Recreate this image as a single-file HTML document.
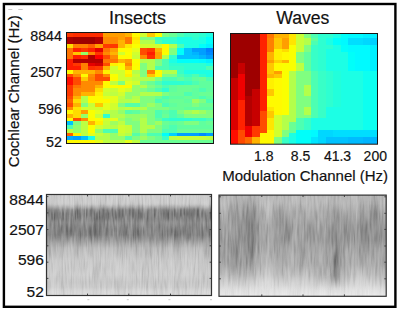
<!DOCTYPE html>
<html><head><meta charset="utf-8"><style>
html,body{margin:0;padding:0;background:#fff;width:400px;height:311px;overflow:hidden}
svg{display:block;font-family:"Liberation Sans",sans-serif}
</style></head><body>
<svg width="400" height="311" viewBox="0 0 400 311">
<defs><linearGradient id="gl" x1="0" y1="0" x2="0" y2="1"><stop offset="0.000" stop-color="#cecece"/><stop offset="0.094" stop-color="#cbcbcb"/><stop offset="0.124" stop-color="#b2b2b2"/><stop offset="0.153" stop-color="#929292"/><stop offset="0.193" stop-color="#898989"/><stop offset="0.243" stop-color="#898989"/><stop offset="0.282" stop-color="#8f8f8f"/><stop offset="0.312" stop-color="#8a8a8a"/><stop offset="0.361" stop-color="#848484"/><stop offset="0.401" stop-color="#858585"/><stop offset="0.441" stop-color="#969696"/><stop offset="0.480" stop-color="#a8a8a8"/><stop offset="0.530" stop-color="#bababa"/><stop offset="0.649" stop-color="#c8c8c8"/><stop offset="0.797" stop-color="#cdcdcd"/><stop offset="0.866" stop-color="#c7c7c7"/><stop offset="0.916" stop-color="#cbcbcb"/><stop offset="0.955" stop-color="#d6d6d6"/><stop offset="1.000" stop-color="#dadada"/></linearGradient>
<linearGradient id="gr" x1="0" y1="0" x2="0" y2="1"><stop offset="0.000" stop-color="#bababa"/><stop offset="0.078" stop-color="#b7b7b7"/><stop offset="0.167" stop-color="#a8a8a8"/><stop offset="0.295" stop-color="#9d9d9d"/><stop offset="0.444" stop-color="#9d9d9d"/><stop offset="0.562" stop-color="#a3a3a3"/><stop offset="0.691" stop-color="#acacac"/><stop offset="0.780" stop-color="#bababa"/><stop offset="0.869" stop-color="#d0d0d0"/><stop offset="0.938" stop-color="#e0e0e0"/><stop offset="1.000" stop-color="#e8e8e8"/></linearGradient>
<filter id="nz1" x="0" y="0" width="100%" height="100%"><feTurbulence type="fractalNoise" baseFrequency="0.35 0.045" numOctaves="2" seed="3"/><feColorMatrix type="matrix" values="0 0 0 0 0.5  0 0 0 0 0.5  0 0 0 0 0.5  0 0 0 0 1"/></filter>
<filter id="nzA2" x="0" y="0" width="100%" height="100%" color-interpolation-filters="sRGB"><feTurbulence type="fractalNoise" baseFrequency="0.12 0.025" numOctaves="1" seed="17"/><feColorMatrix type="matrix" values="1 0 0 0 0  1 0 0 0 0  1 0 0 0 0  0 0 0 0 1"/></filter>
<filter id="nzB2" x="0" y="0" width="100%" height="100%" color-interpolation-filters="sRGB"><feTurbulence type="fractalNoise" baseFrequency="0.1 0.02" numOctaves="1" seed="23"/><feColorMatrix type="matrix" values="1 0 0 0 0  1 0 0 0 0  1 0 0 0 0  0 0 0 0 1"/></filter>
<filter id="nzA" x="0" y="0" width="100%" height="100%" color-interpolation-filters="sRGB"><feTurbulence type="fractalNoise" baseFrequency="0.55 0.05" numOctaves="2" seed="7"/><feColorMatrix type="matrix" values="1 0 0 0 0  1 0 0 0 0  1 0 0 0 0  0 0 0 0 1"/></filter>
<filter id="nzB" x="0" y="0" width="100%" height="100%" color-interpolation-filters="sRGB"><feTurbulence type="fractalNoise" baseFrequency="0.5 0.045" numOctaves="2" seed="11"/><feColorMatrix type="matrix" values="1 0 0 0 0  1 0 0 0 0  1 0 0 0 0  0 0 0 0 1"/></filter>
<filter id="nzC" x="0" y="0" width="100%" height="100%" color-interpolation-filters="sRGB"><feTurbulence type="fractalNoise" baseFrequency="0.3 0.07" numOctaves="2" seed="5"/><feColorMatrix type="matrix" values="1.6 0 0 0 -0.3  1.6 0 0 0 -0.3  1.6 0 0 0 -0.3  0 0 0 0 1"/></filter>
<filter id="dsb" x="-5%" y="-20%" width="110%" height="140%"><feGaussianBlur stdDeviation="0.6 1.2"/></filter>
<filter id="bb3" x="-50%" y="-50%" width="200%" height="200%"><feGaussianBlur stdDeviation="3 4"/></filter>
<filter id="bb1" x="-50%" y="-50%" width="200%" height="200%"><feGaussianBlur stdDeviation="0.8 3"/></filter>
<linearGradient id="fadeband" x1="0" y1="0" x2="0" y2="1"><stop offset="0.08" stop-color="#fff" stop-opacity="0"/><stop offset="0.16" stop-color="#fff" stop-opacity="1"/><stop offset="0.43" stop-color="#fff" stop-opacity="1"/><stop offset="0.52" stop-color="#fff" stop-opacity="0"/></linearGradient>
<mask id="mband" maskContentUnits="userSpaceOnUse"><rect x="46.5" y="194.5" width="165.0" height="101.0" fill="url(#fadeband)"/></mask>
<clipPath id="cl"><rect x="46.50" y="194.50" width="165.00" height="101.00"/></clipPath>
<clipPath id="cr"><rect x="219.00" y="195.10" width="167.20" height="101.20"/></clipPath>
<clipPath id="cins"><rect x="66.50" y="32.50" width="147.00" height="111.00"/></clipPath>
<clipPath id="cwav"><rect x="230.50" y="33.50" width="147.00" height="110.70"/></clipPath>
<filter id="bl" x="-5%" y="-5%" width="110%" height="110%"><feGaussianBlur stdDeviation="0.65"/></filter></defs>
<rect x="3.9" y="4.0" width="391.5" height="302.8" fill="none" stroke="#000" stroke-width="2.4"/>
<g clip-path="url(#cins)"><g filter="url(#bl)" shape-rendering="crispEdges"><rect x="65.80" y="33.10" width="7.45" height="3.73" fill="#ff3800"/>
<rect x="73.20" y="33.10" width="7.45" height="3.73" fill="#ff2e00"/>
<rect x="80.60" y="33.10" width="7.45" height="3.73" fill="#ff2e00"/>
<rect x="88.00" y="33.10" width="7.45" height="3.73" fill="#ff2e00"/>
<rect x="95.40" y="33.10" width="7.45" height="3.73" fill="#ff2e00"/>
<rect x="102.80" y="33.10" width="7.45" height="3.73" fill="#ff9e00"/>
<rect x="110.20" y="33.10" width="7.45" height="3.73" fill="#ff9e00"/>
<rect x="117.60" y="33.10" width="7.45" height="3.73" fill="#ff9e00"/>
<rect x="125.00" y="33.10" width="7.45" height="3.73" fill="#ffb300"/>
<rect x="132.40" y="33.10" width="7.45" height="3.73" fill="#fffa00"/>
<rect x="139.80" y="33.10" width="7.45" height="3.73" fill="#d1ff2e"/>
<rect x="147.20" y="33.10" width="7.45" height="3.73" fill="#ffc700"/>
<rect x="154.60" y="33.10" width="7.45" height="3.73" fill="#faff05"/>
<rect x="162.00" y="33.10" width="7.45" height="3.73" fill="#80ff80"/>
<rect x="169.40" y="33.10" width="7.45" height="3.73" fill="#6bff94"/>
<rect x="176.80" y="33.10" width="7.45" height="3.73" fill="#4dffb2"/>
<rect x="184.20" y="33.10" width="7.45" height="3.73" fill="#38ffc7"/>
<rect x="191.60" y="33.10" width="7.45" height="3.73" fill="#38ffc7"/>
<rect x="199.00" y="33.10" width="7.45" height="3.73" fill="#2effd1"/>
<rect x="206.40" y="33.10" width="7.45" height="3.73" fill="#1affe5"/>
<rect x="65.80" y="36.78" width="7.45" height="3.73" fill="#a80000"/>
<rect x="73.20" y="36.78" width="7.45" height="3.73" fill="#9e0000"/>
<rect x="80.60" y="36.78" width="7.45" height="3.73" fill="#9e0000"/>
<rect x="88.00" y="36.78" width="7.45" height="3.73" fill="#9e0000"/>
<rect x="95.40" y="36.78" width="7.45" height="3.73" fill="#b30000"/>
<rect x="102.80" y="36.78" width="7.45" height="3.73" fill="#ff8a00"/>
<rect x="110.20" y="36.78" width="7.45" height="3.73" fill="#ff8a00"/>
<rect x="117.60" y="36.78" width="7.45" height="3.73" fill="#ff9e00"/>
<rect x="125.00" y="36.78" width="7.45" height="3.73" fill="#ff7500"/>
<rect x="132.40" y="36.78" width="7.45" height="3.73" fill="#ffe500"/>
<rect x="139.80" y="36.78" width="7.45" height="3.73" fill="#80ff80"/>
<rect x="147.20" y="36.78" width="7.45" height="3.73" fill="#80ff80"/>
<rect x="154.60" y="36.78" width="7.45" height="3.73" fill="#38ffc7"/>
<rect x="162.00" y="36.78" width="7.45" height="3.73" fill="#38ffc7"/>
<rect x="169.40" y="36.78" width="7.45" height="3.73" fill="#38ffc7"/>
<rect x="176.80" y="36.78" width="7.45" height="3.73" fill="#1affe5"/>
<rect x="184.20" y="36.78" width="7.45" height="3.73" fill="#1affe5"/>
<rect x="191.60" y="36.78" width="7.45" height="3.73" fill="#2effd1"/>
<rect x="199.00" y="36.78" width="7.45" height="3.73" fill="#1affe5"/>
<rect x="206.40" y="36.78" width="7.45" height="3.73" fill="#05fffa"/>
<rect x="65.80" y="40.47" width="7.45" height="3.73" fill="#a80000"/>
<rect x="73.20" y="40.47" width="7.45" height="3.73" fill="#9e0000"/>
<rect x="80.60" y="40.47" width="7.45" height="3.73" fill="#9e0000"/>
<rect x="88.00" y="40.47" width="7.45" height="3.73" fill="#9e0000"/>
<rect x="95.40" y="40.47" width="7.45" height="3.73" fill="#b30000"/>
<rect x="102.80" y="40.47" width="7.45" height="3.73" fill="#ff8a00"/>
<rect x="110.20" y="40.47" width="7.45" height="3.73" fill="#ff8a00"/>
<rect x="117.60" y="40.47" width="7.45" height="3.73" fill="#ffb300"/>
<rect x="125.00" y="40.47" width="7.45" height="3.73" fill="#ff7500"/>
<rect x="132.40" y="40.47" width="7.45" height="3.73" fill="#fff000"/>
<rect x="139.80" y="40.47" width="7.45" height="3.73" fill="#b3ff4c"/>
<rect x="147.20" y="40.47" width="7.45" height="3.73" fill="#b3ff4c"/>
<rect x="154.60" y="40.47" width="7.45" height="3.73" fill="#4dffb2"/>
<rect x="162.00" y="40.47" width="7.45" height="3.73" fill="#2effd1"/>
<rect x="169.40" y="40.47" width="7.45" height="3.73" fill="#2effd1"/>
<rect x="176.80" y="40.47" width="7.45" height="3.73" fill="#1affe5"/>
<rect x="184.20" y="40.47" width="7.45" height="3.73" fill="#1affe5"/>
<rect x="191.60" y="40.47" width="7.45" height="3.73" fill="#1affe5"/>
<rect x="199.00" y="40.47" width="7.45" height="3.73" fill="#1affe5"/>
<rect x="206.40" y="40.47" width="7.45" height="3.73" fill="#05fffa"/>
<rect x="65.80" y="44.15" width="7.45" height="3.73" fill="#ffdb00"/>
<rect x="73.20" y="44.15" width="7.45" height="3.73" fill="#ff8000"/>
<rect x="80.60" y="44.15" width="7.45" height="3.73" fill="#ff8000"/>
<rect x="88.00" y="44.15" width="7.45" height="3.73" fill="#ff6100"/>
<rect x="95.40" y="44.15" width="7.45" height="3.73" fill="#ff9e00"/>
<rect x="102.80" y="44.15" width="7.45" height="3.73" fill="#ff3800"/>
<rect x="110.20" y="44.15" width="7.45" height="3.73" fill="#ff3800"/>
<rect x="117.60" y="44.15" width="7.45" height="3.73" fill="#ffb300"/>
<rect x="125.00" y="44.15" width="7.45" height="3.73" fill="#ffe500"/>
<rect x="132.40" y="44.15" width="7.45" height="3.73" fill="#faff05"/>
<rect x="139.80" y="44.15" width="7.45" height="3.73" fill="#d1ff2e"/>
<rect x="147.20" y="44.15" width="7.45" height="3.73" fill="#d1ff2e"/>
<rect x="154.60" y="44.15" width="7.45" height="3.73" fill="#d1ff2e"/>
<rect x="162.00" y="44.15" width="7.45" height="3.73" fill="#fffa00"/>
<rect x="169.40" y="44.15" width="7.45" height="3.73" fill="#b3ff4c"/>
<rect x="176.80" y="44.15" width="7.45" height="3.73" fill="#4dffb2"/>
<rect x="184.20" y="44.15" width="7.45" height="3.73" fill="#1affe5"/>
<rect x="191.60" y="44.15" width="7.45" height="3.73" fill="#1affe5"/>
<rect x="199.00" y="44.15" width="7.45" height="3.73" fill="#05fffa"/>
<rect x="206.40" y="44.15" width="7.45" height="3.73" fill="#00f0ff"/>
<rect x="65.80" y="47.83" width="7.45" height="3.73" fill="#ff7500"/>
<rect x="73.20" y="47.83" width="7.45" height="3.73" fill="#ff2400"/>
<rect x="80.60" y="47.83" width="7.45" height="3.73" fill="#ff3800"/>
<rect x="88.00" y="47.83" width="7.45" height="3.73" fill="#ff2400"/>
<rect x="95.40" y="47.83" width="7.45" height="3.73" fill="#e50000"/>
<rect x="102.80" y="47.83" width="7.45" height="3.73" fill="#ff7500"/>
<rect x="110.20" y="47.83" width="7.45" height="3.73" fill="#ff9e00"/>
<rect x="117.60" y="47.83" width="7.45" height="3.73" fill="#fffa00"/>
<rect x="125.00" y="47.83" width="7.45" height="3.73" fill="#fffa00"/>
<rect x="132.40" y="47.83" width="7.45" height="3.73" fill="#e5ff1a"/>
<rect x="139.80" y="47.83" width="7.45" height="3.73" fill="#ff4c00"/>
<rect x="147.20" y="47.83" width="7.45" height="3.73" fill="#ff3800"/>
<rect x="154.60" y="47.83" width="7.45" height="3.73" fill="#ffb300"/>
<rect x="162.00" y="47.83" width="7.45" height="3.73" fill="#fffa00"/>
<rect x="169.40" y="47.83" width="7.45" height="3.73" fill="#80ff80"/>
<rect x="176.80" y="47.83" width="7.45" height="3.73" fill="#05fffa"/>
<rect x="184.20" y="47.83" width="7.45" height="3.73" fill="#00c2ff"/>
<rect x="191.60" y="47.83" width="7.45" height="3.73" fill="#009eff"/>
<rect x="199.00" y="47.83" width="7.45" height="3.73" fill="#009eff"/>
<rect x="206.40" y="47.83" width="7.45" height="3.73" fill="#0080ff"/>
<rect x="65.80" y="51.52" width="7.45" height="3.73" fill="#ff7500"/>
<rect x="73.20" y="51.52" width="7.45" height="3.73" fill="#ffc700"/>
<rect x="80.60" y="51.52" width="7.45" height="3.73" fill="#94ff6b"/>
<rect x="88.00" y="51.52" width="7.45" height="3.73" fill="#ff8a00"/>
<rect x="95.40" y="51.52" width="7.45" height="3.73" fill="#ff3800"/>
<rect x="102.80" y="51.52" width="7.45" height="3.73" fill="#ff8a00"/>
<rect x="110.20" y="51.52" width="7.45" height="3.73" fill="#ffb300"/>
<rect x="117.60" y="51.52" width="7.45" height="3.73" fill="#d1ff2e"/>
<rect x="125.00" y="51.52" width="7.45" height="3.73" fill="#faff05"/>
<rect x="132.40" y="51.52" width="7.45" height="3.73" fill="#d1ff2e"/>
<rect x="139.80" y="51.52" width="7.45" height="3.73" fill="#ff4c00"/>
<rect x="147.20" y="51.52" width="7.45" height="3.73" fill="#ff1a00"/>
<rect x="154.60" y="51.52" width="7.45" height="3.73" fill="#ff9e00"/>
<rect x="162.00" y="51.52" width="7.45" height="3.73" fill="#faff05"/>
<rect x="169.40" y="51.52" width="7.45" height="3.73" fill="#80ff80"/>
<rect x="176.80" y="51.52" width="7.45" height="3.73" fill="#05fffa"/>
<rect x="184.20" y="51.52" width="7.45" height="3.73" fill="#00c2ff"/>
<rect x="191.60" y="51.52" width="7.45" height="3.73" fill="#00b4ff"/>
<rect x="199.00" y="51.52" width="7.45" height="3.73" fill="#009eff"/>
<rect x="206.40" y="51.52" width="7.45" height="3.73" fill="#008aff"/>
<rect x="65.80" y="55.20" width="7.45" height="3.73" fill="#ff7500"/>
<rect x="73.20" y="55.20" width="7.45" height="3.73" fill="#ff1a00"/>
<rect x="80.60" y="55.20" width="7.45" height="3.73" fill="#ff2e00"/>
<rect x="88.00" y="55.20" width="7.45" height="3.73" fill="#b30000"/>
<rect x="95.40" y="55.20" width="7.45" height="3.73" fill="#ff0500"/>
<rect x="102.80" y="55.20" width="7.45" height="3.73" fill="#ff4c00"/>
<rect x="110.20" y="55.20" width="7.45" height="3.73" fill="#ff8a00"/>
<rect x="117.60" y="55.20" width="7.45" height="3.73" fill="#fffa00"/>
<rect x="125.00" y="55.20" width="7.45" height="3.73" fill="#fffa00"/>
<rect x="132.40" y="55.20" width="7.45" height="3.73" fill="#c7ff38"/>
<rect x="139.80" y="55.20" width="7.45" height="3.73" fill="#ff8a00"/>
<rect x="147.20" y="55.20" width="7.45" height="3.73" fill="#ff2e00"/>
<rect x="154.60" y="55.20" width="7.45" height="3.73" fill="#ff9e00"/>
<rect x="162.00" y="55.20" width="7.45" height="3.73" fill="#b3ff4c"/>
<rect x="169.40" y="55.20" width="7.45" height="3.73" fill="#2effd1"/>
<rect x="176.80" y="55.20" width="7.45" height="3.73" fill="#00c2ff"/>
<rect x="184.20" y="55.20" width="7.45" height="3.73" fill="#00c2ff"/>
<rect x="191.60" y="55.20" width="7.45" height="3.73" fill="#00c2ff"/>
<rect x="199.00" y="55.20" width="7.45" height="3.73" fill="#00b4ff"/>
<rect x="206.40" y="55.20" width="7.45" height="3.73" fill="#009eff"/>
<rect x="65.80" y="58.88" width="7.45" height="3.73" fill="#ff1a00"/>
<rect x="73.20" y="58.88" width="7.45" height="3.73" fill="#b30000"/>
<rect x="80.60" y="58.88" width="7.45" height="3.73" fill="#b30000"/>
<rect x="88.00" y="58.88" width="7.45" height="3.73" fill="#b30000"/>
<rect x="95.40" y="58.88" width="7.45" height="3.73" fill="#b30000"/>
<rect x="102.80" y="58.88" width="7.45" height="3.73" fill="#ff7500"/>
<rect x="110.20" y="58.88" width="7.45" height="3.73" fill="#ff7500"/>
<rect x="117.60" y="58.88" width="7.45" height="3.73" fill="#ffb300"/>
<rect x="125.00" y="58.88" width="7.45" height="3.73" fill="#ff9e00"/>
<rect x="132.40" y="58.88" width="7.45" height="3.73" fill="#faff05"/>
<rect x="139.80" y="58.88" width="7.45" height="3.73" fill="#b3ff4c"/>
<rect x="147.20" y="58.88" width="7.45" height="3.73" fill="#b3ff4c"/>
<rect x="154.60" y="58.88" width="7.45" height="3.73" fill="#80ff80"/>
<rect x="162.00" y="58.88" width="7.45" height="3.73" fill="#4dffb2"/>
<rect x="169.40" y="58.88" width="7.45" height="3.73" fill="#1affe5"/>
<rect x="176.80" y="58.88" width="7.45" height="3.73" fill="#05fffa"/>
<rect x="184.20" y="58.88" width="7.45" height="3.73" fill="#05fffa"/>
<rect x="191.60" y="58.88" width="7.45" height="3.73" fill="#05fffa"/>
<rect x="199.00" y="58.88" width="7.45" height="3.73" fill="#00faff"/>
<rect x="206.40" y="58.88" width="7.45" height="3.73" fill="#00f0ff"/>
<rect x="65.80" y="62.56" width="7.45" height="3.73" fill="#ff1a00"/>
<rect x="73.20" y="62.56" width="7.45" height="3.73" fill="#ff3800"/>
<rect x="80.60" y="62.56" width="7.45" height="3.73" fill="#ff8000"/>
<rect x="88.00" y="62.56" width="7.45" height="3.73" fill="#e50000"/>
<rect x="95.40" y="62.56" width="7.45" height="3.73" fill="#d10000"/>
<rect x="102.80" y="62.56" width="7.45" height="3.73" fill="#ff4c00"/>
<rect x="110.20" y="62.56" width="7.45" height="3.73" fill="#fff000"/>
<rect x="117.60" y="62.56" width="7.45" height="3.73" fill="#fffa00"/>
<rect x="125.00" y="62.56" width="7.45" height="3.73" fill="#ff8a00"/>
<rect x="132.40" y="62.56" width="7.45" height="3.73" fill="#fffa00"/>
<rect x="139.80" y="62.56" width="7.45" height="3.73" fill="#80ff80"/>
<rect x="147.20" y="62.56" width="7.45" height="3.73" fill="#b3ff4c"/>
<rect x="154.60" y="62.56" width="7.45" height="3.73" fill="#80ff80"/>
<rect x="162.00" y="62.56" width="7.45" height="3.73" fill="#4dffb2"/>
<rect x="169.40" y="62.56" width="7.45" height="3.73" fill="#2effd1"/>
<rect x="176.80" y="62.56" width="7.45" height="3.73" fill="#2effd1"/>
<rect x="184.20" y="62.56" width="7.45" height="3.73" fill="#2effd1"/>
<rect x="191.60" y="62.56" width="7.45" height="3.73" fill="#2effd1"/>
<rect x="199.00" y="62.56" width="7.45" height="3.73" fill="#2effd1"/>
<rect x="206.40" y="62.56" width="7.45" height="3.73" fill="#1affe5"/>
<rect x="65.80" y="66.25" width="7.45" height="3.73" fill="#ff1a00"/>
<rect x="73.20" y="66.25" width="7.45" height="3.73" fill="#ff1a00"/>
<rect x="80.60" y="66.25" width="7.45" height="3.73" fill="#ff8000"/>
<rect x="88.00" y="66.25" width="7.45" height="3.73" fill="#ff2e00"/>
<rect x="95.40" y="66.25" width="7.45" height="3.73" fill="#ff3800"/>
<rect x="102.80" y="66.25" width="7.45" height="3.73" fill="#ffb300"/>
<rect x="110.20" y="66.25" width="7.45" height="3.73" fill="#d1ff2e"/>
<rect x="117.60" y="66.25" width="7.45" height="3.73" fill="#faff05"/>
<rect x="125.00" y="66.25" width="7.45" height="3.73" fill="#ffb300"/>
<rect x="132.40" y="66.25" width="7.45" height="3.73" fill="#faff05"/>
<rect x="139.80" y="66.25" width="7.45" height="3.73" fill="#80ff80"/>
<rect x="147.20" y="66.25" width="7.45" height="3.73" fill="#b3ff4c"/>
<rect x="154.60" y="66.25" width="7.45" height="3.73" fill="#4dffb2"/>
<rect x="162.00" y="66.25" width="7.45" height="3.73" fill="#4dffb2"/>
<rect x="169.40" y="66.25" width="7.45" height="3.73" fill="#38ffc7"/>
<rect x="176.80" y="66.25" width="7.45" height="3.73" fill="#38ffc7"/>
<rect x="184.20" y="66.25" width="7.45" height="3.73" fill="#2effd1"/>
<rect x="191.60" y="66.25" width="7.45" height="3.73" fill="#2effd1"/>
<rect x="199.00" y="66.25" width="7.45" height="3.73" fill="#2effd1"/>
<rect x="206.40" y="66.25" width="7.45" height="3.73" fill="#4dffb2"/>
<rect x="65.80" y="69.93" width="7.45" height="3.73" fill="#fffa00"/>
<rect x="73.20" y="69.93" width="7.45" height="3.73" fill="#ffb300"/>
<rect x="80.60" y="69.93" width="7.45" height="3.73" fill="#ffb300"/>
<rect x="88.00" y="69.93" width="7.45" height="3.73" fill="#ffb300"/>
<rect x="95.40" y="69.93" width="7.45" height="3.73" fill="#ff8a00"/>
<rect x="102.80" y="69.93" width="7.45" height="3.73" fill="#fff000"/>
<rect x="110.20" y="69.93" width="7.45" height="3.73" fill="#d1ff2e"/>
<rect x="117.60" y="69.93" width="7.45" height="3.73" fill="#d1ff2e"/>
<rect x="125.00" y="69.93" width="7.45" height="3.73" fill="#fffa00"/>
<rect x="132.40" y="69.93" width="7.45" height="3.73" fill="#b3ff4c"/>
<rect x="139.80" y="69.93" width="7.45" height="3.73" fill="#80ff80"/>
<rect x="147.20" y="69.93" width="7.45" height="3.73" fill="#ff8000"/>
<rect x="154.60" y="69.93" width="7.45" height="3.73" fill="#fffa00"/>
<rect x="162.00" y="69.93" width="7.45" height="3.73" fill="#b3ff4c"/>
<rect x="169.40" y="69.93" width="7.45" height="3.73" fill="#b3ff4c"/>
<rect x="176.80" y="69.93" width="7.45" height="3.73" fill="#38ffc7"/>
<rect x="184.20" y="69.93" width="7.45" height="3.73" fill="#1affe5"/>
<rect x="191.60" y="69.93" width="7.45" height="3.73" fill="#1affe5"/>
<rect x="199.00" y="69.93" width="7.45" height="3.73" fill="#1affe5"/>
<rect x="206.40" y="69.93" width="7.45" height="3.73" fill="#1affe5"/>
<rect x="65.80" y="73.61" width="7.45" height="3.73" fill="#ff4c00"/>
<rect x="73.20" y="73.61" width="7.45" height="3.73" fill="#ff8a00"/>
<rect x="80.60" y="73.61" width="7.45" height="3.73" fill="#fffa00"/>
<rect x="88.00" y="73.61" width="7.45" height="3.73" fill="#ff8a00"/>
<rect x="95.40" y="73.61" width="7.45" height="3.73" fill="#ff4c00"/>
<rect x="102.80" y="73.61" width="7.45" height="3.73" fill="#ff8a00"/>
<rect x="110.20" y="73.61" width="7.45" height="3.73" fill="#faff05"/>
<rect x="117.60" y="73.61" width="7.45" height="3.73" fill="#d1ff2e"/>
<rect x="125.00" y="73.61" width="7.45" height="3.73" fill="#fff000"/>
<rect x="132.40" y="73.61" width="7.45" height="3.73" fill="#c7ff38"/>
<rect x="139.80" y="73.61" width="7.45" height="3.73" fill="#80ff80"/>
<rect x="147.20" y="73.61" width="7.45" height="3.73" fill="#ffc700"/>
<rect x="154.60" y="73.61" width="7.45" height="3.73" fill="#fffa00"/>
<rect x="162.00" y="73.61" width="7.45" height="3.73" fill="#80ff80"/>
<rect x="169.40" y="73.61" width="7.45" height="3.73" fill="#80ff80"/>
<rect x="176.80" y="73.61" width="7.45" height="3.73" fill="#4dffb2"/>
<rect x="184.20" y="73.61" width="7.45" height="3.73" fill="#38ffc7"/>
<rect x="191.60" y="73.61" width="7.45" height="3.73" fill="#4dffb2"/>
<rect x="199.00" y="73.61" width="7.45" height="3.73" fill="#2effd1"/>
<rect x="206.40" y="73.61" width="7.45" height="3.73" fill="#1affe5"/>
<rect x="65.80" y="77.30" width="7.45" height="3.73" fill="#ff0f00"/>
<rect x="73.20" y="77.30" width="7.45" height="3.73" fill="#ff4c00"/>
<rect x="80.60" y="77.30" width="7.45" height="3.73" fill="#ffc700"/>
<rect x="88.00" y="77.30" width="7.45" height="3.73" fill="#ff8000"/>
<rect x="95.40" y="77.30" width="7.45" height="3.73" fill="#ff4c00"/>
<rect x="102.80" y="77.30" width="7.45" height="3.73" fill="#ff4c00"/>
<rect x="110.20" y="77.30" width="7.45" height="3.73" fill="#fffa00"/>
<rect x="117.60" y="77.30" width="7.45" height="3.73" fill="#d1ff2e"/>
<rect x="125.00" y="77.30" width="7.45" height="3.73" fill="#d1ff2e"/>
<rect x="132.40" y="77.30" width="7.45" height="3.73" fill="#bdff42"/>
<rect x="139.80" y="77.30" width="7.45" height="3.73" fill="#b3ff4c"/>
<rect x="147.20" y="77.30" width="7.45" height="3.73" fill="#b3ff4c"/>
<rect x="154.60" y="77.30" width="7.45" height="3.73" fill="#80ff80"/>
<rect x="162.00" y="77.30" width="7.45" height="3.73" fill="#4dffb2"/>
<rect x="169.40" y="77.30" width="7.45" height="3.73" fill="#4dffb2"/>
<rect x="176.80" y="77.30" width="7.45" height="3.73" fill="#61ff9e"/>
<rect x="184.20" y="77.30" width="7.45" height="3.73" fill="#4dffb2"/>
<rect x="191.60" y="77.30" width="7.45" height="3.73" fill="#61ff9e"/>
<rect x="199.00" y="77.30" width="7.45" height="3.73" fill="#6bff94"/>
<rect x="206.40" y="77.30" width="7.45" height="3.73" fill="#4dffb2"/>
<rect x="65.80" y="80.98" width="7.45" height="3.73" fill="#ff0f00"/>
<rect x="73.20" y="80.98" width="7.45" height="3.73" fill="#ff4c00"/>
<rect x="80.60" y="80.98" width="7.45" height="3.73" fill="#ff8a00"/>
<rect x="88.00" y="80.98" width="7.45" height="3.73" fill="#ff8a00"/>
<rect x="95.40" y="80.98" width="7.45" height="3.73" fill="#ff8a00"/>
<rect x="102.80" y="80.98" width="7.45" height="3.73" fill="#fffa00"/>
<rect x="110.20" y="80.98" width="7.45" height="3.73" fill="#bdff42"/>
<rect x="117.60" y="80.98" width="7.45" height="3.73" fill="#80ff80"/>
<rect x="125.00" y="80.98" width="7.45" height="3.73" fill="#e5ff1a"/>
<rect x="132.40" y="80.98" width="7.45" height="3.73" fill="#d1ff2e"/>
<rect x="139.80" y="80.98" width="7.45" height="3.73" fill="#80ff80"/>
<rect x="147.20" y="80.98" width="7.45" height="3.73" fill="#6bff94"/>
<rect x="154.60" y="80.98" width="7.45" height="3.73" fill="#4dffb2"/>
<rect x="162.00" y="80.98" width="7.45" height="3.73" fill="#2effd1"/>
<rect x="169.40" y="80.98" width="7.45" height="3.73" fill="#2effd1"/>
<rect x="176.80" y="80.98" width="7.45" height="3.73" fill="#2effd1"/>
<rect x="184.20" y="80.98" width="7.45" height="3.73" fill="#38ffc7"/>
<rect x="191.60" y="80.98" width="7.45" height="3.73" fill="#4dffb2"/>
<rect x="199.00" y="80.98" width="7.45" height="3.73" fill="#61ff9e"/>
<rect x="206.40" y="80.98" width="7.45" height="3.73" fill="#61ff9e"/>
<rect x="65.80" y="84.66" width="7.45" height="3.73" fill="#ff3800"/>
<rect x="73.20" y="84.66" width="7.45" height="3.73" fill="#ff7500"/>
<rect x="80.60" y="84.66" width="7.45" height="3.73" fill="#ff8a00"/>
<rect x="88.00" y="84.66" width="7.45" height="3.73" fill="#ff8a00"/>
<rect x="95.40" y="84.66" width="7.45" height="3.73" fill="#ffb300"/>
<rect x="102.80" y="84.66" width="7.45" height="3.73" fill="#fffa00"/>
<rect x="110.20" y="84.66" width="7.45" height="3.73" fill="#faff05"/>
<rect x="117.60" y="84.66" width="7.45" height="3.73" fill="#fffa00"/>
<rect x="125.00" y="84.66" width="7.45" height="3.73" fill="#fffa00"/>
<rect x="132.40" y="84.66" width="7.45" height="3.73" fill="#94ff6b"/>
<rect x="139.80" y="84.66" width="7.45" height="3.73" fill="#b3ff4c"/>
<rect x="147.20" y="84.66" width="7.45" height="3.73" fill="#80ff80"/>
<rect x="154.60" y="84.66" width="7.45" height="3.73" fill="#6bff94"/>
<rect x="162.00" y="84.66" width="7.45" height="3.73" fill="#4dffb2"/>
<rect x="169.40" y="84.66" width="7.45" height="3.73" fill="#61ff9e"/>
<rect x="176.80" y="84.66" width="7.45" height="3.73" fill="#6bff94"/>
<rect x="184.20" y="84.66" width="7.45" height="3.73" fill="#6bff94"/>
<rect x="191.60" y="84.66" width="7.45" height="3.73" fill="#6bff94"/>
<rect x="199.00" y="84.66" width="7.45" height="3.73" fill="#61ff9e"/>
<rect x="206.40" y="84.66" width="7.45" height="3.73" fill="#61ff9e"/>
<rect x="65.80" y="88.34" width="7.45" height="3.73" fill="#ff3800"/>
<rect x="73.20" y="88.34" width="7.45" height="3.73" fill="#ff8a00"/>
<rect x="80.60" y="88.34" width="7.45" height="3.73" fill="#ff8a00"/>
<rect x="88.00" y="88.34" width="7.45" height="3.73" fill="#ff8a00"/>
<rect x="95.40" y="88.34" width="7.45" height="3.73" fill="#ffdb00"/>
<rect x="102.80" y="88.34" width="7.45" height="3.73" fill="#d1ff2e"/>
<rect x="110.20" y="88.34" width="7.45" height="3.73" fill="#c7ff38"/>
<rect x="117.60" y="88.34" width="7.45" height="3.73" fill="#e5ff1a"/>
<rect x="125.00" y="88.34" width="7.45" height="3.73" fill="#d1ff2e"/>
<rect x="132.40" y="88.34" width="7.45" height="3.73" fill="#94ff6b"/>
<rect x="139.80" y="88.34" width="7.45" height="3.73" fill="#80ff80"/>
<rect x="147.20" y="88.34" width="7.45" height="3.73" fill="#6bff94"/>
<rect x="154.60" y="88.34" width="7.45" height="3.73" fill="#4dffb2"/>
<rect x="162.00" y="88.34" width="7.45" height="3.73" fill="#2effd1"/>
<rect x="169.40" y="88.34" width="7.45" height="3.73" fill="#61ff9e"/>
<rect x="176.80" y="88.34" width="7.45" height="3.73" fill="#6bff94"/>
<rect x="184.20" y="88.34" width="7.45" height="3.73" fill="#6bff94"/>
<rect x="191.60" y="88.34" width="7.45" height="3.73" fill="#61ff9e"/>
<rect x="199.00" y="88.34" width="7.45" height="3.73" fill="#4dffb2"/>
<rect x="206.40" y="88.34" width="7.45" height="3.73" fill="#61ff9e"/>
<rect x="65.80" y="92.03" width="7.45" height="3.73" fill="#ff3800"/>
<rect x="73.20" y="92.03" width="7.45" height="3.73" fill="#ff8a00"/>
<rect x="80.60" y="92.03" width="7.45" height="3.73" fill="#ffb300"/>
<rect x="88.00" y="92.03" width="7.45" height="3.73" fill="#ffb300"/>
<rect x="95.40" y="92.03" width="7.45" height="3.73" fill="#fff000"/>
<rect x="102.80" y="92.03" width="7.45" height="3.73" fill="#c7ff38"/>
<rect x="110.20" y="92.03" width="7.45" height="3.73" fill="#bdff42"/>
<rect x="117.60" y="92.03" width="7.45" height="3.73" fill="#d1ff2e"/>
<rect x="125.00" y="92.03" width="7.45" height="3.73" fill="#94ff6b"/>
<rect x="132.40" y="92.03" width="7.45" height="3.73" fill="#94ff6b"/>
<rect x="139.80" y="92.03" width="7.45" height="3.73" fill="#b3ff4c"/>
<rect x="147.20" y="92.03" width="7.45" height="3.73" fill="#b3ff4c"/>
<rect x="154.60" y="92.03" width="7.45" height="3.73" fill="#b3ff4c"/>
<rect x="162.00" y="92.03" width="7.45" height="3.73" fill="#80ff80"/>
<rect x="169.40" y="92.03" width="7.45" height="3.73" fill="#6bff94"/>
<rect x="176.80" y="92.03" width="7.45" height="3.73" fill="#6bff94"/>
<rect x="184.20" y="92.03" width="7.45" height="3.73" fill="#4dffb2"/>
<rect x="191.60" y="92.03" width="7.45" height="3.73" fill="#61ff9e"/>
<rect x="199.00" y="92.03" width="7.45" height="3.73" fill="#6bff94"/>
<rect x="206.40" y="92.03" width="7.45" height="3.73" fill="#6bff94"/>
<rect x="65.80" y="95.71" width="7.45" height="3.73" fill="#ff4c00"/>
<rect x="73.20" y="95.71" width="7.45" height="3.73" fill="#ffb300"/>
<rect x="80.60" y="95.71" width="7.45" height="3.73" fill="#b3ff4c"/>
<rect x="88.00" y="95.71" width="7.45" height="3.73" fill="#fffa00"/>
<rect x="95.40" y="95.71" width="7.45" height="3.73" fill="#fffa00"/>
<rect x="102.80" y="95.71" width="7.45" height="3.73" fill="#e5ff1a"/>
<rect x="110.20" y="95.71" width="7.45" height="3.73" fill="#e5ff1a"/>
<rect x="117.60" y="95.71" width="7.45" height="3.73" fill="#bdff42"/>
<rect x="125.00" y="95.71" width="7.45" height="3.73" fill="#94ff6b"/>
<rect x="132.40" y="95.71" width="7.45" height="3.73" fill="#b3ff4c"/>
<rect x="139.80" y="95.71" width="7.45" height="3.73" fill="#80ff80"/>
<rect x="147.20" y="95.71" width="7.45" height="3.73" fill="#80ff80"/>
<rect x="154.60" y="95.71" width="7.45" height="3.73" fill="#6bff94"/>
<rect x="162.00" y="95.71" width="7.45" height="3.73" fill="#4dffb2"/>
<rect x="169.40" y="95.71" width="7.45" height="3.73" fill="#61ff9e"/>
<rect x="176.80" y="95.71" width="7.45" height="3.73" fill="#61ff9e"/>
<rect x="184.20" y="95.71" width="7.45" height="3.73" fill="#6bff94"/>
<rect x="191.60" y="95.71" width="7.45" height="3.73" fill="#61ff9e"/>
<rect x="199.00" y="95.71" width="7.45" height="3.73" fill="#4dffb2"/>
<rect x="206.40" y="95.71" width="7.45" height="3.73" fill="#61ff9e"/>
<rect x="65.80" y="99.39" width="7.45" height="3.73" fill="#ff6100"/>
<rect x="73.20" y="99.39" width="7.45" height="3.73" fill="#ffdb00"/>
<rect x="80.60" y="99.39" width="7.45" height="3.73" fill="#b3ff4c"/>
<rect x="88.00" y="99.39" width="7.45" height="3.73" fill="#fffa00"/>
<rect x="95.40" y="99.39" width="7.45" height="3.73" fill="#fffa00"/>
<rect x="102.80" y="99.39" width="7.45" height="3.73" fill="#fffa00"/>
<rect x="110.20" y="99.39" width="7.45" height="3.73" fill="#e5ff1a"/>
<rect x="117.60" y="99.39" width="7.45" height="3.73" fill="#b3ff4c"/>
<rect x="125.00" y="99.39" width="7.45" height="3.73" fill="#b3ff4c"/>
<rect x="132.40" y="99.39" width="7.45" height="3.73" fill="#bdff42"/>
<rect x="139.80" y="99.39" width="7.45" height="3.73" fill="#80ff80"/>
<rect x="147.20" y="99.39" width="7.45" height="3.73" fill="#80ff80"/>
<rect x="154.60" y="99.39" width="7.45" height="3.73" fill="#4dffb2"/>
<rect x="162.00" y="99.39" width="7.45" height="3.73" fill="#61ff9e"/>
<rect x="169.40" y="99.39" width="7.45" height="3.73" fill="#6bff94"/>
<rect x="176.80" y="99.39" width="7.45" height="3.73" fill="#6bff94"/>
<rect x="184.20" y="99.39" width="7.45" height="3.73" fill="#61ff9e"/>
<rect x="191.60" y="99.39" width="7.45" height="3.73" fill="#9eff61"/>
<rect x="199.00" y="99.39" width="7.45" height="3.73" fill="#80ff80"/>
<rect x="206.40" y="99.39" width="7.45" height="3.73" fill="#4dffb2"/>
<rect x="65.80" y="103.08" width="7.45" height="3.73" fill="#ff4c00"/>
<rect x="73.20" y="103.08" width="7.45" height="3.73" fill="#ffb300"/>
<rect x="80.60" y="103.08" width="7.45" height="3.73" fill="#80ff80"/>
<rect x="88.00" y="103.08" width="7.45" height="3.73" fill="#c7ff38"/>
<rect x="95.40" y="103.08" width="7.45" height="3.73" fill="#ffc700"/>
<rect x="102.80" y="103.08" width="7.45" height="3.73" fill="#e5ff1a"/>
<rect x="110.20" y="103.08" width="7.45" height="3.73" fill="#d1ff2e"/>
<rect x="117.60" y="103.08" width="7.45" height="3.73" fill="#80ff80"/>
<rect x="125.00" y="103.08" width="7.45" height="3.73" fill="#57ffa8"/>
<rect x="132.40" y="103.08" width="7.45" height="3.73" fill="#57ffa8"/>
<rect x="139.80" y="103.08" width="7.45" height="3.73" fill="#80ff80"/>
<rect x="147.20" y="103.08" width="7.45" height="3.73" fill="#9eff61"/>
<rect x="154.60" y="103.08" width="7.45" height="3.73" fill="#80ff80"/>
<rect x="162.00" y="103.08" width="7.45" height="3.73" fill="#4dffb2"/>
<rect x="169.40" y="103.08" width="7.45" height="3.73" fill="#61ff9e"/>
<rect x="176.80" y="103.08" width="7.45" height="3.73" fill="#6bff94"/>
<rect x="184.20" y="103.08" width="7.45" height="3.73" fill="#6bff94"/>
<rect x="191.60" y="103.08" width="7.45" height="3.73" fill="#80ff80"/>
<rect x="199.00" y="103.08" width="7.45" height="3.73" fill="#6bff94"/>
<rect x="206.40" y="103.08" width="7.45" height="3.73" fill="#6bff94"/>
<rect x="65.80" y="106.76" width="7.45" height="3.73" fill="#ff8a00"/>
<rect x="73.20" y="106.76" width="7.45" height="3.73" fill="#ffe500"/>
<rect x="80.60" y="106.76" width="7.45" height="3.73" fill="#d1ff2e"/>
<rect x="88.00" y="106.76" width="7.45" height="3.73" fill="#d1ff2e"/>
<rect x="95.40" y="106.76" width="7.45" height="3.73" fill="#d1ff2e"/>
<rect x="102.80" y="106.76" width="7.45" height="3.73" fill="#e5ff1a"/>
<rect x="110.20" y="106.76" width="7.45" height="3.73" fill="#d1ff2e"/>
<rect x="117.60" y="106.76" width="7.45" height="3.73" fill="#b3ff4c"/>
<rect x="125.00" y="106.76" width="7.45" height="3.73" fill="#bdff42"/>
<rect x="132.40" y="106.76" width="7.45" height="3.73" fill="#b3ff4c"/>
<rect x="139.80" y="106.76" width="7.45" height="3.73" fill="#b3ff4c"/>
<rect x="147.20" y="106.76" width="7.45" height="3.73" fill="#80ff80"/>
<rect x="154.60" y="106.76" width="7.45" height="3.73" fill="#80ff80"/>
<rect x="162.00" y="106.76" width="7.45" height="3.73" fill="#80ff80"/>
<rect x="169.40" y="106.76" width="7.45" height="3.73" fill="#6bff94"/>
<rect x="176.80" y="106.76" width="7.45" height="3.73" fill="#6bff94"/>
<rect x="184.20" y="106.76" width="7.45" height="3.73" fill="#61ff9e"/>
<rect x="191.60" y="106.76" width="7.45" height="3.73" fill="#61ff9e"/>
<rect x="199.00" y="106.76" width="7.45" height="3.73" fill="#61ff9e"/>
<rect x="206.40" y="106.76" width="7.45" height="3.73" fill="#61ff9e"/>
<rect x="65.80" y="110.44" width="7.45" height="3.73" fill="#fffa00"/>
<rect x="73.20" y="110.44" width="7.45" height="3.73" fill="#ffdb00"/>
<rect x="80.60" y="110.44" width="7.45" height="3.73" fill="#ff9e00"/>
<rect x="88.00" y="110.44" width="7.45" height="3.73" fill="#faff05"/>
<rect x="95.40" y="110.44" width="7.45" height="3.73" fill="#e5ff1a"/>
<rect x="102.80" y="110.44" width="7.45" height="3.73" fill="#bdff42"/>
<rect x="110.20" y="110.44" width="7.45" height="3.73" fill="#b3ff4c"/>
<rect x="117.60" y="110.44" width="7.45" height="3.73" fill="#94ff6b"/>
<rect x="125.00" y="110.44" width="7.45" height="3.73" fill="#57ffa8"/>
<rect x="132.40" y="110.44" width="7.45" height="3.73" fill="#61ff9e"/>
<rect x="139.80" y="110.44" width="7.45" height="3.73" fill="#80ff80"/>
<rect x="147.20" y="110.44" width="7.45" height="3.73" fill="#80ff80"/>
<rect x="154.60" y="110.44" width="7.45" height="3.73" fill="#4dffb2"/>
<rect x="162.00" y="110.44" width="7.45" height="3.73" fill="#61ff9e"/>
<rect x="169.40" y="110.44" width="7.45" height="3.73" fill="#4dffb2"/>
<rect x="176.80" y="110.44" width="7.45" height="3.73" fill="#80ff80"/>
<rect x="184.20" y="110.44" width="7.45" height="3.73" fill="#9eff61"/>
<rect x="191.60" y="110.44" width="7.45" height="3.73" fill="#b3ff4c"/>
<rect x="199.00" y="110.44" width="7.45" height="3.73" fill="#9eff61"/>
<rect x="206.40" y="110.44" width="7.45" height="3.73" fill="#80ff80"/>
<rect x="65.80" y="114.13" width="7.45" height="3.73" fill="#ffb300"/>
<rect x="73.20" y="114.13" width="7.45" height="3.73" fill="#ffdb00"/>
<rect x="80.60" y="114.13" width="7.45" height="3.73" fill="#94ff6b"/>
<rect x="88.00" y="114.13" width="7.45" height="3.73" fill="#faff05"/>
<rect x="95.40" y="114.13" width="7.45" height="3.73" fill="#c7ff38"/>
<rect x="102.80" y="114.13" width="7.45" height="3.73" fill="#2effd1"/>
<rect x="110.20" y="114.13" width="7.45" height="3.73" fill="#b3ff4c"/>
<rect x="117.60" y="114.13" width="7.45" height="3.73" fill="#b3ff4c"/>
<rect x="125.00" y="114.13" width="7.45" height="3.73" fill="#94ff6b"/>
<rect x="132.40" y="114.13" width="7.45" height="3.73" fill="#94ff6b"/>
<rect x="139.80" y="114.13" width="7.45" height="3.73" fill="#9eff61"/>
<rect x="147.20" y="114.13" width="7.45" height="3.73" fill="#80ff80"/>
<rect x="154.60" y="114.13" width="7.45" height="3.73" fill="#4dffb2"/>
<rect x="162.00" y="114.13" width="7.45" height="3.73" fill="#6bff94"/>
<rect x="169.40" y="114.13" width="7.45" height="3.73" fill="#4dffb2"/>
<rect x="176.80" y="114.13" width="7.45" height="3.73" fill="#61ff9e"/>
<rect x="184.20" y="114.13" width="7.45" height="3.73" fill="#80ff80"/>
<rect x="191.60" y="114.13" width="7.45" height="3.73" fill="#80ff80"/>
<rect x="199.00" y="114.13" width="7.45" height="3.73" fill="#80ff80"/>
<rect x="206.40" y="114.13" width="7.45" height="3.73" fill="#80ff80"/>
<rect x="65.80" y="117.81" width="7.45" height="3.73" fill="#fffa00"/>
<rect x="73.20" y="117.81" width="7.45" height="3.73" fill="#ff4c00"/>
<rect x="80.60" y="117.81" width="7.45" height="3.73" fill="#ff8a00"/>
<rect x="88.00" y="117.81" width="7.45" height="3.73" fill="#fffa00"/>
<rect x="95.40" y="117.81" width="7.45" height="3.73" fill="#faff05"/>
<rect x="102.80" y="117.81" width="7.45" height="3.73" fill="#d1ff2e"/>
<rect x="110.20" y="117.81" width="7.45" height="3.73" fill="#e5ff1a"/>
<rect x="117.60" y="117.81" width="7.45" height="3.73" fill="#9eff61"/>
<rect x="125.00" y="117.81" width="7.45" height="3.73" fill="#80ff80"/>
<rect x="132.40" y="117.81" width="7.45" height="3.73" fill="#94ff6b"/>
<rect x="139.80" y="117.81" width="7.45" height="3.73" fill="#b3ff4c"/>
<rect x="147.20" y="117.81" width="7.45" height="3.73" fill="#80ff80"/>
<rect x="154.60" y="117.81" width="7.45" height="3.73" fill="#61ff9e"/>
<rect x="162.00" y="117.81" width="7.45" height="3.73" fill="#38ffc7"/>
<rect x="169.40" y="117.81" width="7.45" height="3.73" fill="#2effd1"/>
<rect x="176.80" y="117.81" width="7.45" height="3.73" fill="#2effd1"/>
<rect x="184.20" y="117.81" width="7.45" height="3.73" fill="#2effd1"/>
<rect x="191.60" y="117.81" width="7.45" height="3.73" fill="#38ffc7"/>
<rect x="199.00" y="117.81" width="7.45" height="3.73" fill="#38ffc7"/>
<rect x="206.40" y="117.81" width="7.45" height="3.73" fill="#4dffb2"/>
<rect x="65.80" y="121.49" width="7.45" height="3.73" fill="#00c2ff"/>
<rect x="73.20" y="121.49" width="7.45" height="3.73" fill="#80ff80"/>
<rect x="80.60" y="121.49" width="7.45" height="3.73" fill="#bdff42"/>
<rect x="88.00" y="121.49" width="7.45" height="3.73" fill="#ffb300"/>
<rect x="95.40" y="121.49" width="7.45" height="3.73" fill="#fff000"/>
<rect x="102.80" y="121.49" width="7.45" height="3.73" fill="#c7ff38"/>
<rect x="110.20" y="121.49" width="7.45" height="3.73" fill="#9eff61"/>
<rect x="117.60" y="121.49" width="7.45" height="3.73" fill="#bdff42"/>
<rect x="125.00" y="121.49" width="7.45" height="3.73" fill="#80ff80"/>
<rect x="132.40" y="121.49" width="7.45" height="3.73" fill="#80ff80"/>
<rect x="139.80" y="121.49" width="7.45" height="3.73" fill="#b3ff4c"/>
<rect x="147.20" y="121.49" width="7.45" height="3.73" fill="#80ff80"/>
<rect x="154.60" y="121.49" width="7.45" height="3.73" fill="#9eff61"/>
<rect x="162.00" y="121.49" width="7.45" height="3.73" fill="#6bff94"/>
<rect x="169.40" y="121.49" width="7.45" height="3.73" fill="#61ff9e"/>
<rect x="176.80" y="121.49" width="7.45" height="3.73" fill="#6bff94"/>
<rect x="184.20" y="121.49" width="7.45" height="3.73" fill="#80ff80"/>
<rect x="191.60" y="121.49" width="7.45" height="3.73" fill="#80ff80"/>
<rect x="199.00" y="121.49" width="7.45" height="3.73" fill="#61ff9e"/>
<rect x="206.40" y="121.49" width="7.45" height="3.73" fill="#6bff94"/>
<rect x="65.80" y="125.17" width="7.45" height="3.73" fill="#4dffb2"/>
<rect x="73.20" y="125.17" width="7.45" height="3.73" fill="#94ff6b"/>
<rect x="80.60" y="125.17" width="7.45" height="3.73" fill="#bdff42"/>
<rect x="88.00" y="125.17" width="7.45" height="3.73" fill="#faff05"/>
<rect x="95.40" y="125.17" width="7.45" height="3.73" fill="#d1ff2e"/>
<rect x="102.80" y="125.17" width="7.45" height="3.73" fill="#bdff42"/>
<rect x="110.20" y="125.17" width="7.45" height="3.73" fill="#b3ff4c"/>
<rect x="117.60" y="125.17" width="7.45" height="3.73" fill="#d1ff2e"/>
<rect x="125.00" y="125.17" width="7.45" height="3.73" fill="#c7ff38"/>
<rect x="132.40" y="125.17" width="7.45" height="3.73" fill="#80ff80"/>
<rect x="139.80" y="125.17" width="7.45" height="3.73" fill="#b3ff4c"/>
<rect x="147.20" y="125.17" width="7.45" height="3.73" fill="#b3ff4c"/>
<rect x="154.60" y="125.17" width="7.45" height="3.73" fill="#80ff80"/>
<rect x="162.00" y="125.17" width="7.45" height="3.73" fill="#61ff9e"/>
<rect x="169.40" y="125.17" width="7.45" height="3.73" fill="#4dffb2"/>
<rect x="176.80" y="125.17" width="7.45" height="3.73" fill="#61ff9e"/>
<rect x="184.20" y="125.17" width="7.45" height="3.73" fill="#61ff9e"/>
<rect x="191.60" y="125.17" width="7.45" height="3.73" fill="#61ff9e"/>
<rect x="199.00" y="125.17" width="7.45" height="3.73" fill="#61ff9e"/>
<rect x="206.40" y="125.17" width="7.45" height="3.73" fill="#61ff9e"/>
<rect x="65.80" y="128.86" width="7.45" height="3.73" fill="#bdff42"/>
<rect x="73.20" y="128.86" width="7.45" height="3.73" fill="#94ff6b"/>
<rect x="80.60" y="128.86" width="7.45" height="3.73" fill="#bdff42"/>
<rect x="88.00" y="128.86" width="7.45" height="3.73" fill="#faff05"/>
<rect x="95.40" y="128.86" width="7.45" height="3.73" fill="#94ff6b"/>
<rect x="102.80" y="128.86" width="7.45" height="3.73" fill="#4dffb2"/>
<rect x="110.20" y="128.86" width="7.45" height="3.73" fill="#4dffb2"/>
<rect x="117.60" y="128.86" width="7.45" height="3.73" fill="#d1ff2e"/>
<rect x="125.00" y="128.86" width="7.45" height="3.73" fill="#c7ff38"/>
<rect x="132.40" y="128.86" width="7.45" height="3.73" fill="#80ff80"/>
<rect x="139.80" y="128.86" width="7.45" height="3.73" fill="#b3ff4c"/>
<rect x="147.20" y="128.86" width="7.45" height="3.73" fill="#80ff80"/>
<rect x="154.60" y="128.86" width="7.45" height="3.73" fill="#80ff80"/>
<rect x="162.00" y="128.86" width="7.45" height="3.73" fill="#4dffb2"/>
<rect x="169.40" y="128.86" width="7.45" height="3.73" fill="#4dffb2"/>
<rect x="176.80" y="128.86" width="7.45" height="3.73" fill="#6bff94"/>
<rect x="184.20" y="128.86" width="7.45" height="3.73" fill="#6bff94"/>
<rect x="191.60" y="128.86" width="7.45" height="3.73" fill="#6bff94"/>
<rect x="199.00" y="128.86" width="7.45" height="3.73" fill="#6bff94"/>
<rect x="206.40" y="128.86" width="7.45" height="3.73" fill="#6bff94"/>
<rect x="65.80" y="132.54" width="7.45" height="3.73" fill="#ff6100"/>
<rect x="73.20" y="132.54" width="7.45" height="3.73" fill="#fff000"/>
<rect x="80.60" y="132.54" width="7.45" height="3.73" fill="#bdff42"/>
<rect x="88.00" y="132.54" width="7.45" height="3.73" fill="#e5ff1a"/>
<rect x="95.40" y="132.54" width="7.45" height="3.73" fill="#c7ff38"/>
<rect x="102.80" y="132.54" width="7.45" height="3.73" fill="#b3ff4c"/>
<rect x="110.20" y="132.54" width="7.45" height="3.73" fill="#94ff6b"/>
<rect x="117.60" y="132.54" width="7.45" height="3.73" fill="#c7ff38"/>
<rect x="125.00" y="132.54" width="7.45" height="3.73" fill="#b3ff4c"/>
<rect x="132.40" y="132.54" width="7.45" height="3.73" fill="#57ffa8"/>
<rect x="139.80" y="132.54" width="7.45" height="3.73" fill="#80ff80"/>
<rect x="147.20" y="132.54" width="7.45" height="3.73" fill="#4dffb2"/>
<rect x="154.60" y="132.54" width="7.45" height="3.73" fill="#4dffb2"/>
<rect x="162.00" y="132.54" width="7.45" height="3.73" fill="#05fffa"/>
<rect x="169.40" y="132.54" width="7.45" height="3.73" fill="#00d0ff"/>
<rect x="176.80" y="132.54" width="7.45" height="3.73" fill="#009eff"/>
<rect x="184.20" y="132.54" width="7.45" height="3.73" fill="#009eff"/>
<rect x="191.60" y="132.54" width="7.45" height="3.73" fill="#009eff"/>
<rect x="199.00" y="132.54" width="7.45" height="3.73" fill="#008aff"/>
<rect x="206.40" y="132.54" width="7.45" height="3.73" fill="#009eff"/>
<rect x="65.80" y="136.22" width="7.45" height="3.73" fill="#00acff"/>
<rect x="73.20" y="136.22" width="7.45" height="3.73" fill="#009eff"/>
<rect x="80.60" y="136.22" width="7.45" height="3.73" fill="#00c2ff"/>
<rect x="88.00" y="136.22" width="7.45" height="3.73" fill="#1affe5"/>
<rect x="95.40" y="136.22" width="7.45" height="3.73" fill="#b3ff4c"/>
<rect x="102.80" y="136.22" width="7.45" height="3.73" fill="#b3ff4c"/>
<rect x="110.20" y="136.22" width="7.45" height="3.73" fill="#94ff6b"/>
<rect x="117.60" y="136.22" width="7.45" height="3.73" fill="#94ff6b"/>
<rect x="125.00" y="136.22" width="7.45" height="3.73" fill="#57ffa8"/>
<rect x="132.40" y="136.22" width="7.45" height="3.73" fill="#80ff80"/>
<rect x="139.80" y="136.22" width="7.45" height="3.73" fill="#9eff61"/>
<rect x="147.20" y="136.22" width="7.45" height="3.73" fill="#80ff80"/>
<rect x="154.60" y="136.22" width="7.45" height="3.73" fill="#6bff94"/>
<rect x="162.00" y="136.22" width="7.45" height="3.73" fill="#38ffc7"/>
<rect x="169.40" y="136.22" width="7.45" height="3.73" fill="#bdff42"/>
<rect x="176.80" y="136.22" width="7.45" height="3.73" fill="#c7ff38"/>
<rect x="184.20" y="136.22" width="7.45" height="3.73" fill="#c7ff38"/>
<rect x="191.60" y="136.22" width="7.45" height="3.73" fill="#c7ff38"/>
<rect x="199.00" y="136.22" width="7.45" height="3.73" fill="#c7ff38"/>
<rect x="206.40" y="136.22" width="7.45" height="3.73" fill="#bdff42"/>
<rect x="65.80" y="139.91" width="7.45" height="3.73" fill="#fffa00"/>
<rect x="73.20" y="139.91" width="7.45" height="3.73" fill="#fffa00"/>
<rect x="80.60" y="139.91" width="7.45" height="3.73" fill="#fffa00"/>
<rect x="88.00" y="139.91" width="7.45" height="3.73" fill="#fffa00"/>
<rect x="95.40" y="139.91" width="7.45" height="3.73" fill="#e5ff1a"/>
<rect x="102.80" y="139.91" width="7.45" height="3.73" fill="#bdff42"/>
<rect x="110.20" y="139.91" width="7.45" height="3.73" fill="#bdff42"/>
<rect x="117.60" y="139.91" width="7.45" height="3.73" fill="#bdff42"/>
<rect x="125.00" y="139.91" width="7.45" height="3.73" fill="#e5ff1a"/>
<rect x="132.40" y="139.91" width="7.45" height="3.73" fill="#bdff42"/>
<rect x="139.80" y="139.91" width="7.45" height="3.73" fill="#6bff94"/>
<rect x="147.20" y="139.91" width="7.45" height="3.73" fill="#6bff94"/>
<rect x="154.60" y="139.91" width="7.45" height="3.73" fill="#6bff94"/>
<rect x="162.00" y="139.91" width="7.45" height="3.73" fill="#6bff94"/>
<rect x="169.40" y="139.91" width="7.45" height="3.73" fill="#6bff94"/>
<rect x="176.80" y="139.91" width="7.45" height="3.73" fill="#6bff94"/>
<rect x="184.20" y="139.91" width="7.45" height="3.73" fill="#6bff94"/>
<rect x="191.60" y="139.91" width="7.45" height="3.73" fill="#6bff94"/>
<rect x="199.00" y="139.91" width="7.45" height="3.73" fill="#6bff94"/>
<rect x="206.40" y="139.91" width="7.45" height="3.73" fill="#6bff94"/></g></g>
<rect x="66.50" y="32.50" width="147.00" height="111.00" fill="none" stroke="#151515" stroke-width="1"/>
<g clip-path="url(#cwav)"><g filter="url(#bl)" shape-rendering="crispEdges"><rect x="230.40" y="34.00" width="7.39" height="3.72" fill="#9e0000"/>
<rect x="237.74" y="34.00" width="7.39" height="3.72" fill="#9e0000"/>
<rect x="245.08" y="34.00" width="7.39" height="3.72" fill="#9e0000"/>
<rect x="252.42" y="34.00" width="7.39" height="3.72" fill="#9e0000"/>
<rect x="259.76" y="34.00" width="7.39" height="3.72" fill="#ff2400"/>
<rect x="267.10" y="34.00" width="7.39" height="3.72" fill="#ff7500"/>
<rect x="274.44" y="34.00" width="7.39" height="3.72" fill="#ffb300"/>
<rect x="281.78" y="34.00" width="7.39" height="3.72" fill="#ffb300"/>
<rect x="289.12" y="34.00" width="7.39" height="3.72" fill="#ffe500"/>
<rect x="296.46" y="34.00" width="7.39" height="3.72" fill="#c7ff38"/>
<rect x="303.80" y="34.00" width="7.39" height="3.72" fill="#80ff80"/>
<rect x="311.14" y="34.00" width="7.39" height="3.72" fill="#4dffb2"/>
<rect x="318.48" y="34.00" width="7.39" height="3.72" fill="#2effd1"/>
<rect x="325.82" y="34.00" width="7.39" height="3.72" fill="#2effd1"/>
<rect x="333.16" y="34.00" width="7.39" height="3.72" fill="#1affe5"/>
<rect x="340.50" y="34.00" width="7.39" height="3.72" fill="#05fffa"/>
<rect x="347.84" y="34.00" width="7.39" height="3.72" fill="#00faff"/>
<rect x="355.18" y="34.00" width="7.39" height="3.72" fill="#00faff"/>
<rect x="362.52" y="34.00" width="7.39" height="3.72" fill="#00f0ff"/>
<rect x="369.86" y="34.00" width="7.39" height="3.72" fill="#00f0ff"/>
<rect x="230.40" y="37.67" width="7.39" height="3.72" fill="#9e0000"/>
<rect x="237.74" y="37.67" width="7.39" height="3.72" fill="#9e0000"/>
<rect x="245.08" y="37.67" width="7.39" height="3.72" fill="#9e0000"/>
<rect x="252.42" y="37.67" width="7.39" height="3.72" fill="#9e0000"/>
<rect x="259.76" y="37.67" width="7.39" height="3.72" fill="#ff2400"/>
<rect x="267.10" y="37.67" width="7.39" height="3.72" fill="#ff8000"/>
<rect x="274.44" y="37.67" width="7.39" height="3.72" fill="#ffc700"/>
<rect x="281.78" y="37.67" width="7.39" height="3.72" fill="#ff9e00"/>
<rect x="289.12" y="37.67" width="7.39" height="3.72" fill="#ffe500"/>
<rect x="296.46" y="37.67" width="7.39" height="3.72" fill="#c7ff38"/>
<rect x="303.80" y="37.67" width="7.39" height="3.72" fill="#b3ff4c"/>
<rect x="311.14" y="37.67" width="7.39" height="3.72" fill="#61ff9e"/>
<rect x="318.48" y="37.67" width="7.39" height="3.72" fill="#2effd1"/>
<rect x="325.82" y="37.67" width="7.39" height="3.72" fill="#1affe5"/>
<rect x="333.16" y="37.67" width="7.39" height="3.72" fill="#05fffa"/>
<rect x="340.50" y="37.67" width="7.39" height="3.72" fill="#00faff"/>
<rect x="347.84" y="37.67" width="7.39" height="3.72" fill="#00deff"/>
<rect x="355.18" y="37.67" width="7.39" height="3.72" fill="#00deff"/>
<rect x="362.52" y="37.67" width="7.39" height="3.72" fill="#00d7ff"/>
<rect x="369.86" y="37.67" width="7.39" height="3.72" fill="#00d0ff"/>
<rect x="230.40" y="41.35" width="7.39" height="3.72" fill="#9e0000"/>
<rect x="237.74" y="41.35" width="7.39" height="3.72" fill="#9e0000"/>
<rect x="245.08" y="41.35" width="7.39" height="3.72" fill="#9e0000"/>
<rect x="252.42" y="41.35" width="7.39" height="3.72" fill="#9e0000"/>
<rect x="259.76" y="41.35" width="7.39" height="3.72" fill="#ff2400"/>
<rect x="267.10" y="41.35" width="7.39" height="3.72" fill="#ff8000"/>
<rect x="274.44" y="41.35" width="7.39" height="3.72" fill="#ffc700"/>
<rect x="281.78" y="41.35" width="7.39" height="3.72" fill="#ff9e00"/>
<rect x="289.12" y="41.35" width="7.39" height="3.72" fill="#ffe500"/>
<rect x="296.46" y="41.35" width="7.39" height="3.72" fill="#c7ff38"/>
<rect x="303.80" y="41.35" width="7.39" height="3.72" fill="#b3ff4c"/>
<rect x="311.14" y="41.35" width="7.39" height="3.72" fill="#4dffb2"/>
<rect x="318.48" y="41.35" width="7.39" height="3.72" fill="#2effd1"/>
<rect x="325.82" y="41.35" width="7.39" height="3.72" fill="#1affe5"/>
<rect x="333.16" y="41.35" width="7.39" height="3.72" fill="#05fffa"/>
<rect x="340.50" y="41.35" width="7.39" height="3.72" fill="#00faff"/>
<rect x="347.84" y="41.35" width="7.39" height="3.72" fill="#00deff"/>
<rect x="355.18" y="41.35" width="7.39" height="3.72" fill="#00deff"/>
<rect x="362.52" y="41.35" width="7.39" height="3.72" fill="#00d7ff"/>
<rect x="369.86" y="41.35" width="7.39" height="3.72" fill="#00d0ff"/>
<rect x="230.40" y="45.02" width="7.39" height="3.72" fill="#9e0000"/>
<rect x="237.74" y="45.02" width="7.39" height="3.72" fill="#9e0000"/>
<rect x="245.08" y="45.02" width="7.39" height="3.72" fill="#9e0000"/>
<rect x="252.42" y="45.02" width="7.39" height="3.72" fill="#9e0000"/>
<rect x="259.76" y="45.02" width="7.39" height="3.72" fill="#ff2400"/>
<rect x="267.10" y="45.02" width="7.39" height="3.72" fill="#ff8000"/>
<rect x="274.44" y="45.02" width="7.39" height="3.72" fill="#ffc700"/>
<rect x="281.78" y="45.02" width="7.39" height="3.72" fill="#ff9e00"/>
<rect x="289.12" y="45.02" width="7.39" height="3.72" fill="#faff05"/>
<rect x="296.46" y="45.02" width="7.39" height="3.72" fill="#c7ff38"/>
<rect x="303.80" y="45.02" width="7.39" height="3.72" fill="#80ff80"/>
<rect x="311.14" y="45.02" width="7.39" height="3.72" fill="#38ffc7"/>
<rect x="318.48" y="45.02" width="7.39" height="3.72" fill="#2effd1"/>
<rect x="325.82" y="45.02" width="7.39" height="3.72" fill="#2effd1"/>
<rect x="333.16" y="45.02" width="7.39" height="3.72" fill="#1affe5"/>
<rect x="340.50" y="45.02" width="7.39" height="3.72" fill="#05fffa"/>
<rect x="347.84" y="45.02" width="7.39" height="3.72" fill="#00faff"/>
<rect x="355.18" y="45.02" width="7.39" height="3.72" fill="#00faff"/>
<rect x="362.52" y="45.02" width="7.39" height="3.72" fill="#00faff"/>
<rect x="369.86" y="45.02" width="7.39" height="3.72" fill="#00f0ff"/>
<rect x="230.40" y="48.69" width="7.39" height="3.72" fill="#9e0000"/>
<rect x="237.74" y="48.69" width="7.39" height="3.72" fill="#9e0000"/>
<rect x="245.08" y="48.69" width="7.39" height="3.72" fill="#9e0000"/>
<rect x="252.42" y="48.69" width="7.39" height="3.72" fill="#9e0000"/>
<rect x="259.76" y="48.69" width="7.39" height="3.72" fill="#ff2400"/>
<rect x="267.10" y="48.69" width="7.39" height="3.72" fill="#ff8000"/>
<rect x="274.44" y="48.69" width="7.39" height="3.72" fill="#fff000"/>
<rect x="281.78" y="48.69" width="7.39" height="3.72" fill="#ffdb00"/>
<rect x="289.12" y="48.69" width="7.39" height="3.72" fill="#faff05"/>
<rect x="296.46" y="48.69" width="7.39" height="3.72" fill="#c7ff38"/>
<rect x="303.80" y="48.69" width="7.39" height="3.72" fill="#80ff80"/>
<rect x="311.14" y="48.69" width="7.39" height="3.72" fill="#38ffc7"/>
<rect x="318.48" y="48.69" width="7.39" height="3.72" fill="#2effd1"/>
<rect x="325.82" y="48.69" width="7.39" height="3.72" fill="#1affe5"/>
<rect x="333.16" y="48.69" width="7.39" height="3.72" fill="#1affe5"/>
<rect x="340.50" y="48.69" width="7.39" height="3.72" fill="#05fffa"/>
<rect x="347.84" y="48.69" width="7.39" height="3.72" fill="#00faff"/>
<rect x="355.18" y="48.69" width="7.39" height="3.72" fill="#00faff"/>
<rect x="362.52" y="48.69" width="7.39" height="3.72" fill="#00faff"/>
<rect x="369.86" y="48.69" width="7.39" height="3.72" fill="#00f0ff"/>
<rect x="230.40" y="52.37" width="7.39" height="3.72" fill="#9e0000"/>
<rect x="237.74" y="52.37" width="7.39" height="3.72" fill="#9e0000"/>
<rect x="245.08" y="52.37" width="7.39" height="3.72" fill="#9e0000"/>
<rect x="252.42" y="52.37" width="7.39" height="3.72" fill="#9e0000"/>
<rect x="259.76" y="52.37" width="7.39" height="3.72" fill="#ff2400"/>
<rect x="267.10" y="52.37" width="7.39" height="3.72" fill="#ffb300"/>
<rect x="274.44" y="52.37" width="7.39" height="3.72" fill="#fff000"/>
<rect x="281.78" y="52.37" width="7.39" height="3.72" fill="#fffa00"/>
<rect x="289.12" y="52.37" width="7.39" height="3.72" fill="#faff05"/>
<rect x="296.46" y="52.37" width="7.39" height="3.72" fill="#80ff80"/>
<rect x="303.80" y="52.37" width="7.39" height="3.72" fill="#61ff9e"/>
<rect x="311.14" y="52.37" width="7.39" height="3.72" fill="#38ffc7"/>
<rect x="318.48" y="52.37" width="7.39" height="3.72" fill="#2effd1"/>
<rect x="325.82" y="52.37" width="7.39" height="3.72" fill="#1affe5"/>
<rect x="333.16" y="52.37" width="7.39" height="3.72" fill="#1affe5"/>
<rect x="340.50" y="52.37" width="7.39" height="3.72" fill="#1affe5"/>
<rect x="347.84" y="52.37" width="7.39" height="3.72" fill="#05fffa"/>
<rect x="355.18" y="52.37" width="7.39" height="3.72" fill="#00faff"/>
<rect x="362.52" y="52.37" width="7.39" height="3.72" fill="#00faff"/>
<rect x="369.86" y="52.37" width="7.39" height="3.72" fill="#00f0ff"/>
<rect x="230.40" y="56.04" width="7.39" height="3.72" fill="#9e0000"/>
<rect x="237.74" y="56.04" width="7.39" height="3.72" fill="#9e0000"/>
<rect x="245.08" y="56.04" width="7.39" height="3.72" fill="#9e0000"/>
<rect x="252.42" y="56.04" width="7.39" height="3.72" fill="#9e0000"/>
<rect x="259.76" y="56.04" width="7.39" height="3.72" fill="#ff2400"/>
<rect x="267.10" y="56.04" width="7.39" height="3.72" fill="#ffb300"/>
<rect x="274.44" y="56.04" width="7.39" height="3.72" fill="#fff000"/>
<rect x="281.78" y="56.04" width="7.39" height="3.72" fill="#fffa00"/>
<rect x="289.12" y="56.04" width="7.39" height="3.72" fill="#faff05"/>
<rect x="296.46" y="56.04" width="7.39" height="3.72" fill="#80ff80"/>
<rect x="303.80" y="56.04" width="7.39" height="3.72" fill="#61ff9e"/>
<rect x="311.14" y="56.04" width="7.39" height="3.72" fill="#38ffc7"/>
<rect x="318.48" y="56.04" width="7.39" height="3.72" fill="#2effd1"/>
<rect x="325.82" y="56.04" width="7.39" height="3.72" fill="#1affe5"/>
<rect x="333.16" y="56.04" width="7.39" height="3.72" fill="#1affe5"/>
<rect x="340.50" y="56.04" width="7.39" height="3.72" fill="#1affe5"/>
<rect x="347.84" y="56.04" width="7.39" height="3.72" fill="#05fffa"/>
<rect x="355.18" y="56.04" width="7.39" height="3.72" fill="#00faff"/>
<rect x="362.52" y="56.04" width="7.39" height="3.72" fill="#00faff"/>
<rect x="369.86" y="56.04" width="7.39" height="3.72" fill="#00f0ff"/>
<rect x="230.40" y="59.71" width="7.39" height="3.72" fill="#9e0000"/>
<rect x="237.74" y="59.71" width="7.39" height="3.72" fill="#9e0000"/>
<rect x="245.08" y="59.71" width="7.39" height="3.72" fill="#9e0000"/>
<rect x="252.42" y="59.71" width="7.39" height="3.72" fill="#9e0000"/>
<rect x="259.76" y="59.71" width="7.39" height="3.72" fill="#ff2400"/>
<rect x="267.10" y="59.71" width="7.39" height="3.72" fill="#ff9e00"/>
<rect x="274.44" y="59.71" width="7.39" height="3.72" fill="#ffd100"/>
<rect x="281.78" y="59.71" width="7.39" height="3.72" fill="#ffb300"/>
<rect x="289.12" y="59.71" width="7.39" height="3.72" fill="#faff05"/>
<rect x="296.46" y="59.71" width="7.39" height="3.72" fill="#80ff80"/>
<rect x="303.80" y="59.71" width="7.39" height="3.72" fill="#61ff9e"/>
<rect x="311.14" y="59.71" width="7.39" height="3.72" fill="#38ffc7"/>
<rect x="318.48" y="59.71" width="7.39" height="3.72" fill="#2effd1"/>
<rect x="325.82" y="59.71" width="7.39" height="3.72" fill="#1affe5"/>
<rect x="333.16" y="59.71" width="7.39" height="3.72" fill="#1affe5"/>
<rect x="340.50" y="59.71" width="7.39" height="3.72" fill="#1affe5"/>
<rect x="347.84" y="59.71" width="7.39" height="3.72" fill="#05fffa"/>
<rect x="355.18" y="59.71" width="7.39" height="3.72" fill="#00faff"/>
<rect x="362.52" y="59.71" width="7.39" height="3.72" fill="#00faff"/>
<rect x="369.86" y="59.71" width="7.39" height="3.72" fill="#00f0ff"/>
<rect x="230.40" y="63.38" width="7.39" height="3.72" fill="#9e0000"/>
<rect x="237.74" y="63.38" width="7.39" height="3.72" fill="#c70000"/>
<rect x="245.08" y="63.38" width="7.39" height="3.72" fill="#9e0000"/>
<rect x="252.42" y="63.38" width="7.39" height="3.72" fill="#9e0000"/>
<rect x="259.76" y="63.38" width="7.39" height="3.72" fill="#ff2400"/>
<rect x="267.10" y="63.38" width="7.39" height="3.72" fill="#ffc700"/>
<rect x="274.44" y="63.38" width="7.39" height="3.72" fill="#fffa00"/>
<rect x="281.78" y="63.38" width="7.39" height="3.72" fill="#faff05"/>
<rect x="289.12" y="63.38" width="7.39" height="3.72" fill="#faff05"/>
<rect x="296.46" y="63.38" width="7.39" height="3.72" fill="#bdff42"/>
<rect x="303.80" y="63.38" width="7.39" height="3.72" fill="#61ff9e"/>
<rect x="311.14" y="63.38" width="7.39" height="3.72" fill="#38ffc7"/>
<rect x="318.48" y="63.38" width="7.39" height="3.72" fill="#2effd1"/>
<rect x="325.82" y="63.38" width="7.39" height="3.72" fill="#1affe5"/>
<rect x="333.16" y="63.38" width="7.39" height="3.72" fill="#1affe5"/>
<rect x="340.50" y="63.38" width="7.39" height="3.72" fill="#1affe5"/>
<rect x="347.84" y="63.38" width="7.39" height="3.72" fill="#05fffa"/>
<rect x="355.18" y="63.38" width="7.39" height="3.72" fill="#00faff"/>
<rect x="362.52" y="63.38" width="7.39" height="3.72" fill="#00faff"/>
<rect x="369.86" y="63.38" width="7.39" height="3.72" fill="#00f0ff"/>
<rect x="230.40" y="67.06" width="7.39" height="3.72" fill="#9e0000"/>
<rect x="237.74" y="67.06" width="7.39" height="3.72" fill="#c70000"/>
<rect x="245.08" y="67.06" width="7.39" height="3.72" fill="#9e0000"/>
<rect x="252.42" y="67.06" width="7.39" height="3.72" fill="#9e0000"/>
<rect x="259.76" y="67.06" width="7.39" height="3.72" fill="#ff2400"/>
<rect x="267.10" y="67.06" width="7.39" height="3.72" fill="#ffc700"/>
<rect x="274.44" y="67.06" width="7.39" height="3.72" fill="#fffa00"/>
<rect x="281.78" y="67.06" width="7.39" height="3.72" fill="#faff05"/>
<rect x="289.12" y="67.06" width="7.39" height="3.72" fill="#faff05"/>
<rect x="296.46" y="67.06" width="7.39" height="3.72" fill="#bdff42"/>
<rect x="303.80" y="67.06" width="7.39" height="3.72" fill="#61ff9e"/>
<rect x="311.14" y="67.06" width="7.39" height="3.72" fill="#38ffc7"/>
<rect x="318.48" y="67.06" width="7.39" height="3.72" fill="#2effd1"/>
<rect x="325.82" y="67.06" width="7.39" height="3.72" fill="#1affe5"/>
<rect x="333.16" y="67.06" width="7.39" height="3.72" fill="#1affe5"/>
<rect x="340.50" y="67.06" width="7.39" height="3.72" fill="#1affe5"/>
<rect x="347.84" y="67.06" width="7.39" height="3.72" fill="#05fffa"/>
<rect x="355.18" y="67.06" width="7.39" height="3.72" fill="#00faff"/>
<rect x="362.52" y="67.06" width="7.39" height="3.72" fill="#00faff"/>
<rect x="369.86" y="67.06" width="7.39" height="3.72" fill="#00f0ff"/>
<rect x="230.40" y="70.73" width="7.39" height="3.72" fill="#9e0000"/>
<rect x="237.74" y="70.73" width="7.39" height="3.72" fill="#c70000"/>
<rect x="245.08" y="70.73" width="7.39" height="3.72" fill="#9e0000"/>
<rect x="252.42" y="70.73" width="7.39" height="3.72" fill="#9e0000"/>
<rect x="259.76" y="70.73" width="7.39" height="3.72" fill="#ff2400"/>
<rect x="267.10" y="70.73" width="7.39" height="3.72" fill="#ffc700"/>
<rect x="274.44" y="70.73" width="7.39" height="3.72" fill="#ff9e00"/>
<rect x="281.78" y="70.73" width="7.39" height="3.72" fill="#faff05"/>
<rect x="289.12" y="70.73" width="7.39" height="3.72" fill="#b3ff4c"/>
<rect x="296.46" y="70.73" width="7.39" height="3.72" fill="#80ff80"/>
<rect x="303.80" y="70.73" width="7.39" height="3.72" fill="#80ff80"/>
<rect x="311.14" y="70.73" width="7.39" height="3.72" fill="#4dffb2"/>
<rect x="318.48" y="70.73" width="7.39" height="3.72" fill="#38ffc7"/>
<rect x="325.82" y="70.73" width="7.39" height="3.72" fill="#2effd1"/>
<rect x="333.16" y="70.73" width="7.39" height="3.72" fill="#24ffdb"/>
<rect x="340.50" y="70.73" width="7.39" height="3.72" fill="#1affe5"/>
<rect x="347.84" y="70.73" width="7.39" height="3.72" fill="#1affe5"/>
<rect x="355.18" y="70.73" width="7.39" height="3.72" fill="#1affe5"/>
<rect x="362.52" y="70.73" width="7.39" height="3.72" fill="#0ffff0"/>
<rect x="369.86" y="70.73" width="7.39" height="3.72" fill="#0ffff0"/>
<rect x="230.40" y="74.40" width="7.39" height="3.72" fill="#9e0000"/>
<rect x="237.74" y="74.40" width="7.39" height="3.72" fill="#f00000"/>
<rect x="245.08" y="74.40" width="7.39" height="3.72" fill="#9e0000"/>
<rect x="252.42" y="74.40" width="7.39" height="3.72" fill="#9e0000"/>
<rect x="259.76" y="74.40" width="7.39" height="3.72" fill="#ff2400"/>
<rect x="267.10" y="74.40" width="7.39" height="3.72" fill="#ffb300"/>
<rect x="274.44" y="74.40" width="7.39" height="3.72" fill="#ffc700"/>
<rect x="281.78" y="74.40" width="7.39" height="3.72" fill="#faff05"/>
<rect x="289.12" y="74.40" width="7.39" height="3.72" fill="#b3ff4c"/>
<rect x="296.46" y="74.40" width="7.39" height="3.72" fill="#80ff80"/>
<rect x="303.80" y="74.40" width="7.39" height="3.72" fill="#80ff80"/>
<rect x="311.14" y="74.40" width="7.39" height="3.72" fill="#4dffb2"/>
<rect x="318.48" y="74.40" width="7.39" height="3.72" fill="#38ffc7"/>
<rect x="325.82" y="74.40" width="7.39" height="3.72" fill="#2effd1"/>
<rect x="333.16" y="74.40" width="7.39" height="3.72" fill="#24ffdb"/>
<rect x="340.50" y="74.40" width="7.39" height="3.72" fill="#1affe5"/>
<rect x="347.84" y="74.40" width="7.39" height="3.72" fill="#1affe5"/>
<rect x="355.18" y="74.40" width="7.39" height="3.72" fill="#1affe5"/>
<rect x="362.52" y="74.40" width="7.39" height="3.72" fill="#0ffff0"/>
<rect x="369.86" y="74.40" width="7.39" height="3.72" fill="#0ffff0"/>
<rect x="230.40" y="78.08" width="7.39" height="3.72" fill="#c70000"/>
<rect x="237.74" y="78.08" width="7.39" height="3.72" fill="#f00000"/>
<rect x="245.08" y="78.08" width="7.39" height="3.72" fill="#9e0000"/>
<rect x="252.42" y="78.08" width="7.39" height="3.72" fill="#9e0000"/>
<rect x="259.76" y="78.08" width="7.39" height="3.72" fill="#ff2400"/>
<rect x="267.10" y="78.08" width="7.39" height="3.72" fill="#fff000"/>
<rect x="274.44" y="78.08" width="7.39" height="3.72" fill="#fffa00"/>
<rect x="281.78" y="78.08" width="7.39" height="3.72" fill="#faff05"/>
<rect x="289.12" y="78.08" width="7.39" height="3.72" fill="#b3ff4c"/>
<rect x="296.46" y="78.08" width="7.39" height="3.72" fill="#80ff80"/>
<rect x="303.80" y="78.08" width="7.39" height="3.72" fill="#80ff80"/>
<rect x="311.14" y="78.08" width="7.39" height="3.72" fill="#4dffb2"/>
<rect x="318.48" y="78.08" width="7.39" height="3.72" fill="#38ffc7"/>
<rect x="325.82" y="78.08" width="7.39" height="3.72" fill="#2effd1"/>
<rect x="333.16" y="78.08" width="7.39" height="3.72" fill="#24ffdb"/>
<rect x="340.50" y="78.08" width="7.39" height="3.72" fill="#1affe5"/>
<rect x="347.84" y="78.08" width="7.39" height="3.72" fill="#1affe5"/>
<rect x="355.18" y="78.08" width="7.39" height="3.72" fill="#1affe5"/>
<rect x="362.52" y="78.08" width="7.39" height="3.72" fill="#0ffff0"/>
<rect x="369.86" y="78.08" width="7.39" height="3.72" fill="#0ffff0"/>
<rect x="230.40" y="81.75" width="7.39" height="3.72" fill="#c70000"/>
<rect x="237.74" y="81.75" width="7.39" height="3.72" fill="#f00000"/>
<rect x="245.08" y="81.75" width="7.39" height="3.72" fill="#9e0000"/>
<rect x="252.42" y="81.75" width="7.39" height="3.72" fill="#9e0000"/>
<rect x="259.76" y="81.75" width="7.39" height="3.72" fill="#ff2400"/>
<rect x="267.10" y="81.75" width="7.39" height="3.72" fill="#fff000"/>
<rect x="274.44" y="81.75" width="7.39" height="3.72" fill="#fffa00"/>
<rect x="281.78" y="81.75" width="7.39" height="3.72" fill="#faff05"/>
<rect x="289.12" y="81.75" width="7.39" height="3.72" fill="#b3ff4c"/>
<rect x="296.46" y="81.75" width="7.39" height="3.72" fill="#80ff80"/>
<rect x="303.80" y="81.75" width="7.39" height="3.72" fill="#80ff80"/>
<rect x="311.14" y="81.75" width="7.39" height="3.72" fill="#4dffb2"/>
<rect x="318.48" y="81.75" width="7.39" height="3.72" fill="#38ffc7"/>
<rect x="325.82" y="81.75" width="7.39" height="3.72" fill="#2effd1"/>
<rect x="333.16" y="81.75" width="7.39" height="3.72" fill="#24ffdb"/>
<rect x="340.50" y="81.75" width="7.39" height="3.72" fill="#1affe5"/>
<rect x="347.84" y="81.75" width="7.39" height="3.72" fill="#1affe5"/>
<rect x="355.18" y="81.75" width="7.39" height="3.72" fill="#1affe5"/>
<rect x="362.52" y="81.75" width="7.39" height="3.72" fill="#0ffff0"/>
<rect x="369.86" y="81.75" width="7.39" height="3.72" fill="#0ffff0"/>
<rect x="230.40" y="85.42" width="7.39" height="3.72" fill="#c70000"/>
<rect x="237.74" y="85.42" width="7.39" height="3.72" fill="#f00000"/>
<rect x="245.08" y="85.42" width="7.39" height="3.72" fill="#9e0000"/>
<rect x="252.42" y="85.42" width="7.39" height="3.72" fill="#9e0000"/>
<rect x="259.76" y="85.42" width="7.39" height="3.72" fill="#ff2400"/>
<rect x="267.10" y="85.42" width="7.39" height="3.72" fill="#fff000"/>
<rect x="274.44" y="85.42" width="7.39" height="3.72" fill="#fffa00"/>
<rect x="281.78" y="85.42" width="7.39" height="3.72" fill="#faff05"/>
<rect x="289.12" y="85.42" width="7.39" height="3.72" fill="#b3ff4c"/>
<rect x="296.46" y="85.42" width="7.39" height="3.72" fill="#80ff80"/>
<rect x="303.80" y="85.42" width="7.39" height="3.72" fill="#b3ff4c"/>
<rect x="311.14" y="85.42" width="7.39" height="3.72" fill="#4dffb2"/>
<rect x="318.48" y="85.42" width="7.39" height="3.72" fill="#38ffc7"/>
<rect x="325.82" y="85.42" width="7.39" height="3.72" fill="#2effd1"/>
<rect x="333.16" y="85.42" width="7.39" height="3.72" fill="#24ffdb"/>
<rect x="340.50" y="85.42" width="7.39" height="3.72" fill="#1affe5"/>
<rect x="347.84" y="85.42" width="7.39" height="3.72" fill="#1affe5"/>
<rect x="355.18" y="85.42" width="7.39" height="3.72" fill="#1affe5"/>
<rect x="362.52" y="85.42" width="7.39" height="3.72" fill="#0ffff0"/>
<rect x="369.86" y="85.42" width="7.39" height="3.72" fill="#0ffff0"/>
<rect x="230.40" y="89.09" width="7.39" height="3.72" fill="#c70000"/>
<rect x="237.74" y="89.09" width="7.39" height="3.72" fill="#f00000"/>
<rect x="245.08" y="89.09" width="7.39" height="3.72" fill="#9e0000"/>
<rect x="252.42" y="89.09" width="7.39" height="3.72" fill="#c70000"/>
<rect x="259.76" y="89.09" width="7.39" height="3.72" fill="#ff2400"/>
<rect x="267.10" y="89.09" width="7.39" height="3.72" fill="#ffc700"/>
<rect x="274.44" y="89.09" width="7.39" height="3.72" fill="#fffa00"/>
<rect x="281.78" y="89.09" width="7.39" height="3.72" fill="#faff05"/>
<rect x="289.12" y="89.09" width="7.39" height="3.72" fill="#b3ff4c"/>
<rect x="296.46" y="89.09" width="7.39" height="3.72" fill="#80ff80"/>
<rect x="303.80" y="89.09" width="7.39" height="3.72" fill="#b3ff4c"/>
<rect x="311.14" y="89.09" width="7.39" height="3.72" fill="#4dffb2"/>
<rect x="318.48" y="89.09" width="7.39" height="3.72" fill="#38ffc7"/>
<rect x="325.82" y="89.09" width="7.39" height="3.72" fill="#2effd1"/>
<rect x="333.16" y="89.09" width="7.39" height="3.72" fill="#24ffdb"/>
<rect x="340.50" y="89.09" width="7.39" height="3.72" fill="#1affe5"/>
<rect x="347.84" y="89.09" width="7.39" height="3.72" fill="#1affe5"/>
<rect x="355.18" y="89.09" width="7.39" height="3.72" fill="#1affe5"/>
<rect x="362.52" y="89.09" width="7.39" height="3.72" fill="#0ffff0"/>
<rect x="369.86" y="89.09" width="7.39" height="3.72" fill="#0ffff0"/>
<rect x="230.40" y="92.77" width="7.39" height="3.72" fill="#c70000"/>
<rect x="237.74" y="92.77" width="7.39" height="3.72" fill="#f00000"/>
<rect x="245.08" y="92.77" width="7.39" height="3.72" fill="#9e0000"/>
<rect x="252.42" y="92.77" width="7.39" height="3.72" fill="#c70000"/>
<rect x="259.76" y="92.77" width="7.39" height="3.72" fill="#ff2400"/>
<rect x="267.10" y="92.77" width="7.39" height="3.72" fill="#ffc700"/>
<rect x="274.44" y="92.77" width="7.39" height="3.72" fill="#fffa00"/>
<rect x="281.78" y="92.77" width="7.39" height="3.72" fill="#faff05"/>
<rect x="289.12" y="92.77" width="7.39" height="3.72" fill="#b3ff4c"/>
<rect x="296.46" y="92.77" width="7.39" height="3.72" fill="#80ff80"/>
<rect x="303.80" y="92.77" width="7.39" height="3.72" fill="#b3ff4c"/>
<rect x="311.14" y="92.77" width="7.39" height="3.72" fill="#4dffb2"/>
<rect x="318.48" y="92.77" width="7.39" height="3.72" fill="#38ffc7"/>
<rect x="325.82" y="92.77" width="7.39" height="3.72" fill="#2effd1"/>
<rect x="333.16" y="92.77" width="7.39" height="3.72" fill="#24ffdb"/>
<rect x="340.50" y="92.77" width="7.39" height="3.72" fill="#1affe5"/>
<rect x="347.84" y="92.77" width="7.39" height="3.72" fill="#1affe5"/>
<rect x="355.18" y="92.77" width="7.39" height="3.72" fill="#1affe5"/>
<rect x="362.52" y="92.77" width="7.39" height="3.72" fill="#0ffff0"/>
<rect x="369.86" y="92.77" width="7.39" height="3.72" fill="#0ffff0"/>
<rect x="230.40" y="96.44" width="7.39" height="3.72" fill="#c70000"/>
<rect x="237.74" y="96.44" width="7.39" height="3.72" fill="#f00000"/>
<rect x="245.08" y="96.44" width="7.39" height="3.72" fill="#b30000"/>
<rect x="252.42" y="96.44" width="7.39" height="3.72" fill="#c70000"/>
<rect x="259.76" y="96.44" width="7.39" height="3.72" fill="#ff2400"/>
<rect x="267.10" y="96.44" width="7.39" height="3.72" fill="#fffa00"/>
<rect x="274.44" y="96.44" width="7.39" height="3.72" fill="#fffa00"/>
<rect x="281.78" y="96.44" width="7.39" height="3.72" fill="#faff05"/>
<rect x="289.12" y="96.44" width="7.39" height="3.72" fill="#b3ff4c"/>
<rect x="296.46" y="96.44" width="7.39" height="3.72" fill="#80ff80"/>
<rect x="303.80" y="96.44" width="7.39" height="3.72" fill="#80ff80"/>
<rect x="311.14" y="96.44" width="7.39" height="3.72" fill="#4dffb2"/>
<rect x="318.48" y="96.44" width="7.39" height="3.72" fill="#38ffc7"/>
<rect x="325.82" y="96.44" width="7.39" height="3.72" fill="#2effd1"/>
<rect x="333.16" y="96.44" width="7.39" height="3.72" fill="#24ffdb"/>
<rect x="340.50" y="96.44" width="7.39" height="3.72" fill="#1affe5"/>
<rect x="347.84" y="96.44" width="7.39" height="3.72" fill="#1affe5"/>
<rect x="355.18" y="96.44" width="7.39" height="3.72" fill="#1affe5"/>
<rect x="362.52" y="96.44" width="7.39" height="3.72" fill="#0ffff0"/>
<rect x="369.86" y="96.44" width="7.39" height="3.72" fill="#0ffff0"/>
<rect x="230.40" y="100.11" width="7.39" height="3.72" fill="#db0000"/>
<rect x="237.74" y="100.11" width="7.39" height="3.72" fill="#ff2400"/>
<rect x="245.08" y="100.11" width="7.39" height="3.72" fill="#b30000"/>
<rect x="252.42" y="100.11" width="7.39" height="3.72" fill="#c70000"/>
<rect x="259.76" y="100.11" width="7.39" height="3.72" fill="#ff2400"/>
<rect x="267.10" y="100.11" width="7.39" height="3.72" fill="#fffa00"/>
<rect x="274.44" y="100.11" width="7.39" height="3.72" fill="#fffa00"/>
<rect x="281.78" y="100.11" width="7.39" height="3.72" fill="#faff05"/>
<rect x="289.12" y="100.11" width="7.39" height="3.72" fill="#b3ff4c"/>
<rect x="296.46" y="100.11" width="7.39" height="3.72" fill="#80ff80"/>
<rect x="303.80" y="100.11" width="7.39" height="3.72" fill="#80ff80"/>
<rect x="311.14" y="100.11" width="7.39" height="3.72" fill="#4dffb2"/>
<rect x="318.48" y="100.11" width="7.39" height="3.72" fill="#38ffc7"/>
<rect x="325.82" y="100.11" width="7.39" height="3.72" fill="#2effd1"/>
<rect x="333.16" y="100.11" width="7.39" height="3.72" fill="#24ffdb"/>
<rect x="340.50" y="100.11" width="7.39" height="3.72" fill="#1affe5"/>
<rect x="347.84" y="100.11" width="7.39" height="3.72" fill="#1affe5"/>
<rect x="355.18" y="100.11" width="7.39" height="3.72" fill="#1affe5"/>
<rect x="362.52" y="100.11" width="7.39" height="3.72" fill="#0ffff0"/>
<rect x="369.86" y="100.11" width="7.39" height="3.72" fill="#0ffff0"/>
<rect x="230.40" y="103.79" width="7.39" height="3.72" fill="#db0000"/>
<rect x="237.74" y="103.79" width="7.39" height="3.72" fill="#ff2400"/>
<rect x="245.08" y="103.79" width="7.39" height="3.72" fill="#b30000"/>
<rect x="252.42" y="103.79" width="7.39" height="3.72" fill="#c70000"/>
<rect x="259.76" y="103.79" width="7.39" height="3.72" fill="#ff2400"/>
<rect x="267.10" y="103.79" width="7.39" height="3.72" fill="#fffa00"/>
<rect x="274.44" y="103.79" width="7.39" height="3.72" fill="#fffa00"/>
<rect x="281.78" y="103.79" width="7.39" height="3.72" fill="#faff05"/>
<rect x="289.12" y="103.79" width="7.39" height="3.72" fill="#b3ff4c"/>
<rect x="296.46" y="103.79" width="7.39" height="3.72" fill="#80ff80"/>
<rect x="303.80" y="103.79" width="7.39" height="3.72" fill="#80ff80"/>
<rect x="311.14" y="103.79" width="7.39" height="3.72" fill="#4dffb2"/>
<rect x="318.48" y="103.79" width="7.39" height="3.72" fill="#38ffc7"/>
<rect x="325.82" y="103.79" width="7.39" height="3.72" fill="#2effd1"/>
<rect x="333.16" y="103.79" width="7.39" height="3.72" fill="#24ffdb"/>
<rect x="340.50" y="103.79" width="7.39" height="3.72" fill="#1affe5"/>
<rect x="347.84" y="103.79" width="7.39" height="3.72" fill="#1affe5"/>
<rect x="355.18" y="103.79" width="7.39" height="3.72" fill="#1affe5"/>
<rect x="362.52" y="103.79" width="7.39" height="3.72" fill="#0ffff0"/>
<rect x="369.86" y="103.79" width="7.39" height="3.72" fill="#0ffff0"/>
<rect x="230.40" y="107.46" width="7.39" height="3.72" fill="#db0000"/>
<rect x="237.74" y="107.46" width="7.39" height="3.72" fill="#ff2400"/>
<rect x="245.08" y="107.46" width="7.39" height="3.72" fill="#b30000"/>
<rect x="252.42" y="107.46" width="7.39" height="3.72" fill="#c70000"/>
<rect x="259.76" y="107.46" width="7.39" height="3.72" fill="#ff2400"/>
<rect x="267.10" y="107.46" width="7.39" height="3.72" fill="#ffe500"/>
<rect x="274.44" y="107.46" width="7.39" height="3.72" fill="#fffa00"/>
<rect x="281.78" y="107.46" width="7.39" height="3.72" fill="#faff05"/>
<rect x="289.12" y="107.46" width="7.39" height="3.72" fill="#b3ff4c"/>
<rect x="296.46" y="107.46" width="7.39" height="3.72" fill="#80ff80"/>
<rect x="303.80" y="107.46" width="7.39" height="3.72" fill="#b3ff4c"/>
<rect x="311.14" y="107.46" width="7.39" height="3.72" fill="#4dffb2"/>
<rect x="318.48" y="107.46" width="7.39" height="3.72" fill="#38ffc7"/>
<rect x="325.82" y="107.46" width="7.39" height="3.72" fill="#1affe5"/>
<rect x="333.16" y="107.46" width="7.39" height="3.72" fill="#1affe5"/>
<rect x="340.50" y="107.46" width="7.39" height="3.72" fill="#1affe5"/>
<rect x="347.84" y="107.46" width="7.39" height="3.72" fill="#1affe5"/>
<rect x="355.18" y="107.46" width="7.39" height="3.72" fill="#1affe5"/>
<rect x="362.52" y="107.46" width="7.39" height="3.72" fill="#0ffff0"/>
<rect x="369.86" y="107.46" width="7.39" height="3.72" fill="#0ffff0"/>
<rect x="230.40" y="111.13" width="7.39" height="3.72" fill="#db0000"/>
<rect x="237.74" y="111.13" width="7.39" height="3.72" fill="#ff2400"/>
<rect x="245.08" y="111.13" width="7.39" height="3.72" fill="#b30000"/>
<rect x="252.42" y="111.13" width="7.39" height="3.72" fill="#c70000"/>
<rect x="259.76" y="111.13" width="7.39" height="3.72" fill="#ff4c00"/>
<rect x="267.10" y="111.13" width="7.39" height="3.72" fill="#ffc700"/>
<rect x="274.44" y="111.13" width="7.39" height="3.72" fill="#fffa00"/>
<rect x="281.78" y="111.13" width="7.39" height="3.72" fill="#faff05"/>
<rect x="289.12" y="111.13" width="7.39" height="3.72" fill="#b3ff4c"/>
<rect x="296.46" y="111.13" width="7.39" height="3.72" fill="#80ff80"/>
<rect x="303.80" y="111.13" width="7.39" height="3.72" fill="#b3ff4c"/>
<rect x="311.14" y="111.13" width="7.39" height="3.72" fill="#4dffb2"/>
<rect x="318.48" y="111.13" width="7.39" height="3.72" fill="#38ffc7"/>
<rect x="325.82" y="111.13" width="7.39" height="3.72" fill="#1affe5"/>
<rect x="333.16" y="111.13" width="7.39" height="3.72" fill="#1affe5"/>
<rect x="340.50" y="111.13" width="7.39" height="3.72" fill="#1affe5"/>
<rect x="347.84" y="111.13" width="7.39" height="3.72" fill="#1affe5"/>
<rect x="355.18" y="111.13" width="7.39" height="3.72" fill="#1affe5"/>
<rect x="362.52" y="111.13" width="7.39" height="3.72" fill="#0ffff0"/>
<rect x="369.86" y="111.13" width="7.39" height="3.72" fill="#0ffff0"/>
<rect x="230.40" y="114.81" width="7.39" height="3.72" fill="#db0000"/>
<rect x="237.74" y="114.81" width="7.39" height="3.72" fill="#ff2400"/>
<rect x="245.08" y="114.81" width="7.39" height="3.72" fill="#b30000"/>
<rect x="252.42" y="114.81" width="7.39" height="3.72" fill="#c70000"/>
<rect x="259.76" y="114.81" width="7.39" height="3.72" fill="#ff4c00"/>
<rect x="267.10" y="114.81" width="7.39" height="3.72" fill="#ffc700"/>
<rect x="274.44" y="114.81" width="7.39" height="3.72" fill="#d1ff2e"/>
<rect x="281.78" y="114.81" width="7.39" height="3.72" fill="#b3ff4c"/>
<rect x="289.12" y="114.81" width="7.39" height="3.72" fill="#b3ff4c"/>
<rect x="296.46" y="114.81" width="7.39" height="3.72" fill="#80ff80"/>
<rect x="303.80" y="114.81" width="7.39" height="3.72" fill="#80ff80"/>
<rect x="311.14" y="114.81" width="7.39" height="3.72" fill="#4dffb2"/>
<rect x="318.48" y="114.81" width="7.39" height="3.72" fill="#38ffc7"/>
<rect x="325.82" y="114.81" width="7.39" height="3.72" fill="#1affe5"/>
<rect x="333.16" y="114.81" width="7.39" height="3.72" fill="#1affe5"/>
<rect x="340.50" y="114.81" width="7.39" height="3.72" fill="#1affe5"/>
<rect x="347.84" y="114.81" width="7.39" height="3.72" fill="#1affe5"/>
<rect x="355.18" y="114.81" width="7.39" height="3.72" fill="#1affe5"/>
<rect x="362.52" y="114.81" width="7.39" height="3.72" fill="#0ffff0"/>
<rect x="369.86" y="114.81" width="7.39" height="3.72" fill="#0ffff0"/>
<rect x="230.40" y="118.48" width="7.39" height="3.72" fill="#db0000"/>
<rect x="237.74" y="118.48" width="7.39" height="3.72" fill="#ff2400"/>
<rect x="245.08" y="118.48" width="7.39" height="3.72" fill="#b30000"/>
<rect x="252.42" y="118.48" width="7.39" height="3.72" fill="#c70000"/>
<rect x="259.76" y="118.48" width="7.39" height="3.72" fill="#ff4c00"/>
<rect x="267.10" y="118.48" width="7.39" height="3.72" fill="#ffe500"/>
<rect x="274.44" y="118.48" width="7.39" height="3.72" fill="#d1ff2e"/>
<rect x="281.78" y="118.48" width="7.39" height="3.72" fill="#b3ff4c"/>
<rect x="289.12" y="118.48" width="7.39" height="3.72" fill="#b3ff4c"/>
<rect x="296.46" y="118.48" width="7.39" height="3.72" fill="#4dffb2"/>
<rect x="303.80" y="118.48" width="7.39" height="3.72" fill="#38ffc7"/>
<rect x="311.14" y="118.48" width="7.39" height="3.72" fill="#1affe5"/>
<rect x="318.48" y="118.48" width="7.39" height="3.72" fill="#1affe5"/>
<rect x="325.82" y="118.48" width="7.39" height="3.72" fill="#1affe5"/>
<rect x="333.16" y="118.48" width="7.39" height="3.72" fill="#1affe5"/>
<rect x="340.50" y="118.48" width="7.39" height="3.72" fill="#1affe5"/>
<rect x="347.84" y="118.48" width="7.39" height="3.72" fill="#1affe5"/>
<rect x="355.18" y="118.48" width="7.39" height="3.72" fill="#1affe5"/>
<rect x="362.52" y="118.48" width="7.39" height="3.72" fill="#0ffff0"/>
<rect x="369.86" y="118.48" width="7.39" height="3.72" fill="#0ffff0"/>
<rect x="230.40" y="122.15" width="7.39" height="3.72" fill="#db0000"/>
<rect x="237.74" y="122.15" width="7.39" height="3.72" fill="#ff2400"/>
<rect x="245.08" y="122.15" width="7.39" height="3.72" fill="#b30000"/>
<rect x="252.42" y="122.15" width="7.39" height="3.72" fill="#c70000"/>
<rect x="259.76" y="122.15" width="7.39" height="3.72" fill="#ff4c00"/>
<rect x="267.10" y="122.15" width="7.39" height="3.72" fill="#ffe500"/>
<rect x="274.44" y="122.15" width="7.39" height="3.72" fill="#d1ff2e"/>
<rect x="281.78" y="122.15" width="7.39" height="3.72" fill="#b3ff4c"/>
<rect x="289.12" y="122.15" width="7.39" height="3.72" fill="#6bff94"/>
<rect x="296.46" y="122.15" width="7.39" height="3.72" fill="#4dffb2"/>
<rect x="303.80" y="122.15" width="7.39" height="3.72" fill="#38ffc7"/>
<rect x="311.14" y="122.15" width="7.39" height="3.72" fill="#1affe5"/>
<rect x="318.48" y="122.15" width="7.39" height="3.72" fill="#1affe5"/>
<rect x="325.82" y="122.15" width="7.39" height="3.72" fill="#1affe5"/>
<rect x="333.16" y="122.15" width="7.39" height="3.72" fill="#1affe5"/>
<rect x="340.50" y="122.15" width="7.39" height="3.72" fill="#1affe5"/>
<rect x="347.84" y="122.15" width="7.39" height="3.72" fill="#1affe5"/>
<rect x="355.18" y="122.15" width="7.39" height="3.72" fill="#1affe5"/>
<rect x="362.52" y="122.15" width="7.39" height="3.72" fill="#0ffff0"/>
<rect x="369.86" y="122.15" width="7.39" height="3.72" fill="#0ffff0"/>
<rect x="230.40" y="125.83" width="7.39" height="3.72" fill="#db0000"/>
<rect x="237.74" y="125.83" width="7.39" height="3.72" fill="#ff2400"/>
<rect x="245.08" y="125.83" width="7.39" height="3.72" fill="#f00000"/>
<rect x="252.42" y="125.83" width="7.39" height="3.72" fill="#ff3800"/>
<rect x="259.76" y="125.83" width="7.39" height="3.72" fill="#ff4c00"/>
<rect x="267.10" y="125.83" width="7.39" height="3.72" fill="#ffe500"/>
<rect x="274.44" y="125.83" width="7.39" height="3.72" fill="#d1ff2e"/>
<rect x="281.78" y="125.83" width="7.39" height="3.72" fill="#b3ff4c"/>
<rect x="289.12" y="125.83" width="7.39" height="3.72" fill="#6bff94"/>
<rect x="296.46" y="125.83" width="7.39" height="3.72" fill="#4dffb2"/>
<rect x="303.80" y="125.83" width="7.39" height="3.72" fill="#38ffc7"/>
<rect x="311.14" y="125.83" width="7.39" height="3.72" fill="#1affe5"/>
<rect x="318.48" y="125.83" width="7.39" height="3.72" fill="#1affe5"/>
<rect x="325.82" y="125.83" width="7.39" height="3.72" fill="#1affe5"/>
<rect x="333.16" y="125.83" width="7.39" height="3.72" fill="#1affe5"/>
<rect x="340.50" y="125.83" width="7.39" height="3.72" fill="#1affe5"/>
<rect x="347.84" y="125.83" width="7.39" height="3.72" fill="#1affe5"/>
<rect x="355.18" y="125.83" width="7.39" height="3.72" fill="#1affe5"/>
<rect x="362.52" y="125.83" width="7.39" height="3.72" fill="#0ffff0"/>
<rect x="369.86" y="125.83" width="7.39" height="3.72" fill="#0ffff0"/>
<rect x="230.40" y="129.50" width="7.39" height="3.72" fill="#ff0f00"/>
<rect x="237.74" y="129.50" width="7.39" height="3.72" fill="#ff4c00"/>
<rect x="245.08" y="129.50" width="7.39" height="3.72" fill="#f00000"/>
<rect x="252.42" y="129.50" width="7.39" height="3.72" fill="#ff3800"/>
<rect x="259.76" y="129.50" width="7.39" height="3.72" fill="#ff4c00"/>
<rect x="267.10" y="129.50" width="7.39" height="3.72" fill="#fffa00"/>
<rect x="274.44" y="129.50" width="7.39" height="3.72" fill="#d1ff2e"/>
<rect x="281.78" y="129.50" width="7.39" height="3.72" fill="#80ff80"/>
<rect x="289.12" y="129.50" width="7.39" height="3.72" fill="#6bff94"/>
<rect x="296.46" y="129.50" width="7.39" height="3.72" fill="#05fffa"/>
<rect x="303.80" y="129.50" width="7.39" height="3.72" fill="#05fffa"/>
<rect x="311.14" y="129.50" width="7.39" height="3.72" fill="#00faff"/>
<rect x="318.48" y="129.50" width="7.39" height="3.72" fill="#00d7ff"/>
<rect x="325.82" y="129.50" width="7.39" height="3.72" fill="#00d7ff"/>
<rect x="333.16" y="129.50" width="7.39" height="3.72" fill="#00deff"/>
<rect x="340.50" y="129.50" width="7.39" height="3.72" fill="#00deff"/>
<rect x="347.84" y="129.50" width="7.39" height="3.72" fill="#00deff"/>
<rect x="355.18" y="129.50" width="7.39" height="3.72" fill="#00deff"/>
<rect x="362.52" y="129.50" width="7.39" height="3.72" fill="#00deff"/>
<rect x="369.86" y="129.50" width="7.39" height="3.72" fill="#00deff"/>
<rect x="230.40" y="133.17" width="7.39" height="3.72" fill="#ff0f00"/>
<rect x="237.74" y="133.17" width="7.39" height="3.72" fill="#ff4c00"/>
<rect x="245.08" y="133.17" width="7.39" height="3.72" fill="#f00000"/>
<rect x="252.42" y="133.17" width="7.39" height="3.72" fill="#ff3800"/>
<rect x="259.76" y="133.17" width="7.39" height="3.72" fill="#fffa00"/>
<rect x="267.10" y="133.17" width="7.39" height="3.72" fill="#fffa00"/>
<rect x="274.44" y="133.17" width="7.39" height="3.72" fill="#d1ff2e"/>
<rect x="281.78" y="133.17" width="7.39" height="3.72" fill="#80ff80"/>
<rect x="289.12" y="133.17" width="7.39" height="3.72" fill="#1affe5"/>
<rect x="296.46" y="133.17" width="7.39" height="3.72" fill="#05fffa"/>
<rect x="303.80" y="133.17" width="7.39" height="3.72" fill="#05fffa"/>
<rect x="311.14" y="133.17" width="7.39" height="3.72" fill="#00faff"/>
<rect x="318.48" y="133.17" width="7.39" height="3.72" fill="#00d7ff"/>
<rect x="325.82" y="133.17" width="7.39" height="3.72" fill="#00d7ff"/>
<rect x="333.16" y="133.17" width="7.39" height="3.72" fill="#00deff"/>
<rect x="340.50" y="133.17" width="7.39" height="3.72" fill="#00deff"/>
<rect x="347.84" y="133.17" width="7.39" height="3.72" fill="#00deff"/>
<rect x="355.18" y="133.17" width="7.39" height="3.72" fill="#00deff"/>
<rect x="362.52" y="133.17" width="7.39" height="3.72" fill="#00deff"/>
<rect x="369.86" y="133.17" width="7.39" height="3.72" fill="#00deff"/>
<rect x="230.40" y="136.84" width="7.39" height="3.72" fill="#ff0f00"/>
<rect x="237.74" y="136.84" width="7.39" height="3.72" fill="#ff4c00"/>
<rect x="245.08" y="136.84" width="7.39" height="3.72" fill="#ff6b00"/>
<rect x="252.42" y="136.84" width="7.39" height="3.72" fill="#ffb300"/>
<rect x="259.76" y="136.84" width="7.39" height="3.72" fill="#fffa00"/>
<rect x="267.10" y="136.84" width="7.39" height="3.72" fill="#fffa00"/>
<rect x="274.44" y="136.84" width="7.39" height="3.72" fill="#80ff80"/>
<rect x="281.78" y="136.84" width="7.39" height="3.72" fill="#38ffc7"/>
<rect x="289.12" y="136.84" width="7.39" height="3.72" fill="#1affe5"/>
<rect x="296.46" y="136.84" width="7.39" height="3.72" fill="#05fffa"/>
<rect x="303.80" y="136.84" width="7.39" height="3.72" fill="#05fffa"/>
<rect x="311.14" y="136.84" width="7.39" height="3.72" fill="#00e5ff"/>
<rect x="318.48" y="136.84" width="7.39" height="3.72" fill="#00d7ff"/>
<rect x="325.82" y="136.84" width="7.39" height="3.72" fill="#00c2ff"/>
<rect x="333.16" y="136.84" width="7.39" height="3.72" fill="#00c2ff"/>
<rect x="340.50" y="136.84" width="7.39" height="3.72" fill="#00c2ff"/>
<rect x="347.84" y="136.84" width="7.39" height="3.72" fill="#00bbff"/>
<rect x="355.18" y="136.84" width="7.39" height="3.72" fill="#00bbff"/>
<rect x="362.52" y="136.84" width="7.39" height="3.72" fill="#00b4ff"/>
<rect x="369.86" y="136.84" width="7.39" height="3.72" fill="#00b4ff"/>
<rect x="230.40" y="140.52" width="7.39" height="3.72" fill="#ff0f00"/>
<rect x="237.74" y="140.52" width="7.39" height="3.72" fill="#ff4c00"/>
<rect x="245.08" y="140.52" width="7.39" height="3.72" fill="#ff6b00"/>
<rect x="252.42" y="140.52" width="7.39" height="3.72" fill="#ffb300"/>
<rect x="259.76" y="140.52" width="7.39" height="3.72" fill="#fffa00"/>
<rect x="267.10" y="140.52" width="7.39" height="3.72" fill="#fffa00"/>
<rect x="274.44" y="140.52" width="7.39" height="3.72" fill="#80ff80"/>
<rect x="281.78" y="140.52" width="7.39" height="3.72" fill="#38ffc7"/>
<rect x="289.12" y="140.52" width="7.39" height="3.72" fill="#1affe5"/>
<rect x="296.46" y="140.52" width="7.39" height="3.72" fill="#05fffa"/>
<rect x="303.80" y="140.52" width="7.39" height="3.72" fill="#05fffa"/>
<rect x="311.14" y="140.52" width="7.39" height="3.72" fill="#00e5ff"/>
<rect x="318.48" y="140.52" width="7.39" height="3.72" fill="#00d7ff"/>
<rect x="325.82" y="140.52" width="7.39" height="3.72" fill="#00c2ff"/>
<rect x="333.16" y="140.52" width="7.39" height="3.72" fill="#00c2ff"/>
<rect x="340.50" y="140.52" width="7.39" height="3.72" fill="#00c2ff"/>
<rect x="347.84" y="140.52" width="7.39" height="3.72" fill="#00bbff"/>
<rect x="355.18" y="140.52" width="7.39" height="3.72" fill="#00bbff"/>
<rect x="362.52" y="140.52" width="7.39" height="3.72" fill="#00b4ff"/>
<rect x="369.86" y="140.52" width="7.39" height="3.72" fill="#00b4ff"/></g></g>
<rect x="230.50" y="33.50" width="147.00" height="110.70" fill="none" stroke="#151515" stroke-width="1"/>
<g clip-path="url(#cl)">
<rect x="46.50" y="194.50" width="165.00" height="101.00" fill="url(#gl)"/>
<rect x="46.50" y="194.50" width="165.00" height="101.00" filter="url(#nzA)" style="mix-blend-mode:soft-light" opacity="0.6"/>
<rect x="46.50" y="194.50" width="165.00" height="101.00" filter="url(#nzA2)" style="mix-blend-mode:soft-light" opacity="0.35"/>
<g filter="url(#dsb)"><rect x="48.0" y="210.1" width="1.6" height="6.8" fill="#000" opacity="0.10"/><rect x="47.8" y="229.6" width="1.6" height="6.0" fill="#000" opacity="0.11"/><rect x="51.2" y="212.2" width="1.6" height="8.0" fill="#000" opacity="0.14"/><rect x="53.8" y="212.3" width="1.6" height="7.5" fill="#000" opacity="0.14"/><rect x="56.2" y="210.1" width="1.6" height="9.4" fill="#000" opacity="0.13"/><rect x="59.4" y="211.4" width="1.6" height="7.9" fill="#000" opacity="0.14"/><rect x="60.4" y="225.1" width="1.6" height="5.8" fill="#000" opacity="0.09"/><rect x="62.4" y="211.8" width="1.6" height="8.4" fill="#000" opacity="0.26"/><rect x="61.7" y="225.0" width="1.6" height="8.7" fill="#000" opacity="0.12"/><rect x="65.7" y="211.5" width="1.6" height="9.8" fill="#000" opacity="0.19"/><rect x="66.3" y="224.7" width="1.6" height="6.9" fill="#000" opacity="0.05"/><rect x="68.7" y="208.3" width="1.6" height="7.2" fill="#000" opacity="0.06"/><rect x="69.2" y="228.2" width="1.6" height="5.8" fill="#000" opacity="0.05"/><rect x="71.2" y="209.0" width="1.6" height="7.6" fill="#000" opacity="0.21"/><rect x="70.5" y="227.8" width="1.6" height="8.7" fill="#000" opacity="0.13"/><rect x="74.5" y="211.0" width="1.6" height="8.4" fill="#000" opacity="0.14"/><rect x="73.9" y="226.0" width="1.6" height="5.7" fill="#000" opacity="0.05"/><rect x="77.1" y="209.8" width="1.6" height="9.1" fill="#000" opacity="0.22"/><rect x="79.5" y="212.2" width="1.6" height="6.7" fill="#000" opacity="0.07"/><rect x="78.9" y="228.9" width="1.6" height="5.2" fill="#000" opacity="0.08"/><rect x="83.2" y="209.7" width="1.6" height="7.7" fill="#000" opacity="0.13"/><rect x="83.6" y="228.9" width="1.6" height="8.7" fill="#000" opacity="0.08"/><rect x="86.2" y="208.7" width="1.6" height="8.6" fill="#000" opacity="0.19"/><rect x="85.6" y="229.3" width="1.6" height="7.9" fill="#000" opacity="0.12"/><rect x="89.6" y="209.2" width="1.6" height="7.2" fill="#000" opacity="0.21"/><rect x="89.1" y="226.2" width="1.6" height="8.9" fill="#000" opacity="0.09"/><rect x="93.4" y="211.3" width="1.6" height="9.2" fill="#000" opacity="0.17"/><rect x="96.1" y="212.1" width="1.6" height="7.6" fill="#000" opacity="0.19"/><rect x="98.8" y="210.7" width="1.6" height="8.4" fill="#000" opacity="0.26"/><rect x="101.8" y="208.6" width="1.6" height="9.5" fill="#000" opacity="0.13"/><rect x="105.2" y="212.9" width="1.6" height="6.8" fill="#000" opacity="0.19"/><rect x="105.7" y="228.0" width="1.6" height="7.6" fill="#000" opacity="0.13"/><rect x="107.9" y="212.1" width="1.6" height="7.4" fill="#000" opacity="0.14"/><rect x="107.5" y="228.7" width="1.6" height="5.0" fill="#000" opacity="0.11"/><rect x="111.4" y="207.8" width="1.6" height="9.1" fill="#000" opacity="0.15"/><rect x="111.3" y="228.5" width="1.6" height="8.0" fill="#000" opacity="0.09"/><rect x="114.7" y="210.1" width="1.6" height="9.1" fill="#000" opacity="0.21"/><rect x="114.3" y="225.4" width="1.6" height="5.4" fill="#000" opacity="0.10"/><rect x="118.6" y="209.8" width="1.6" height="7.5" fill="#000" opacity="0.17"/><rect x="121.9" y="208.5" width="1.6" height="9.0" fill="#000" opacity="0.26"/><rect x="124.8" y="208.4" width="1.6" height="7.8" fill="#000" opacity="0.09"/><rect x="125.2" y="226.5" width="1.6" height="8.4" fill="#000" opacity="0.08"/><rect x="128.7" y="208.9" width="1.6" height="7.0" fill="#000" opacity="0.11"/><rect x="132.5" y="208.8" width="1.6" height="9.3" fill="#000" opacity="0.25"/><rect x="132.5" y="229.1" width="1.6" height="8.6" fill="#000" opacity="0.06"/><rect x="134.9" y="208.8" width="1.6" height="7.8" fill="#000" opacity="0.06"/><rect x="135.3" y="227.8" width="1.6" height="6.3" fill="#000" opacity="0.10"/><rect x="138.0" y="210.5" width="1.6" height="8.3" fill="#000" opacity="0.14"/><rect x="137.1" y="228.9" width="1.6" height="5.2" fill="#000" opacity="0.07"/><rect x="140.6" y="212.0" width="1.6" height="6.6" fill="#000" opacity="0.15"/><rect x="143.6" y="212.3" width="1.6" height="6.5" fill="#000" opacity="0.09"/><rect x="143.0" y="226.6" width="1.6" height="7.2" fill="#000" opacity="0.10"/><rect x="147.1" y="210.1" width="1.6" height="9.3" fill="#000" opacity="0.08"/><rect x="150.6" y="212.3" width="1.6" height="6.6" fill="#000" opacity="0.08"/><rect x="153.9" y="207.6" width="1.6" height="9.5" fill="#000" opacity="0.20"/><rect x="157.5" y="210.9" width="1.6" height="7.4" fill="#000" opacity="0.07"/><rect x="156.9" y="228.9" width="1.6" height="5.8" fill="#000" opacity="0.05"/><rect x="160.6" y="211.9" width="1.6" height="8.9" fill="#000" opacity="0.06"/><rect x="161.2" y="229.4" width="1.6" height="5.4" fill="#000" opacity="0.06"/><rect x="163.6" y="210.7" width="1.6" height="9.5" fill="#000" opacity="0.08"/><rect x="167.4" y="211.1" width="1.6" height="9.1" fill="#000" opacity="0.13"/><rect x="167.0" y="225.0" width="1.6" height="6.6" fill="#000" opacity="0.06"/><rect x="171.3" y="211.3" width="1.6" height="9.2" fill="#000" opacity="0.12"/><rect x="171.0" y="227.9" width="1.6" height="5.3" fill="#000" opacity="0.10"/><rect x="174.0" y="209.5" width="1.6" height="7.3" fill="#000" opacity="0.23"/><rect x="174.1" y="229.2" width="1.6" height="7.4" fill="#000" opacity="0.11"/><rect x="176.3" y="212.2" width="1.6" height="7.2" fill="#000" opacity="0.14"/><rect x="180.1" y="208.6" width="1.6" height="8.1" fill="#000" opacity="0.26"/><rect x="180.2" y="229.1" width="1.6" height="5.7" fill="#000" opacity="0.08"/><rect x="183.3" y="208.2" width="1.6" height="6.8" fill="#000" opacity="0.24"/><rect x="182.8" y="225.3" width="1.6" height="9.0" fill="#000" opacity="0.10"/><rect x="186.3" y="207.2" width="1.6" height="8.6" fill="#000" opacity="0.16"/><rect x="190.2" y="207.7" width="1.6" height="8.4" fill="#000" opacity="0.13"/><rect x="190.2" y="230.8" width="1.6" height="5.4" fill="#000" opacity="0.06"/><rect x="193.5" y="207.8" width="1.6" height="9.4" fill="#000" opacity="0.15"/><rect x="194.0" y="230.0" width="1.6" height="5.5" fill="#000" opacity="0.06"/><rect x="197.2" y="208.5" width="1.6" height="8.6" fill="#000" opacity="0.19"/><rect x="201.0" y="210.7" width="1.6" height="6.9" fill="#000" opacity="0.16"/><rect x="203.9" y="211.0" width="1.6" height="6.3" fill="#000" opacity="0.11"/><rect x="206.7" y="207.9" width="1.6" height="9.2" fill="#000" opacity="0.07"/><rect x="205.8" y="225.5" width="1.6" height="5.8" fill="#000" opacity="0.07"/><rect x="209.4" y="212.6" width="1.6" height="7.0" fill="#000" opacity="0.18"/><rect x="209.1" y="229.6" width="1.6" height="5.5" fill="#000" opacity="0.05"/></g>
<g mask="url(#mband)"><rect x="46.50" y="194.50" width="165.00" height="101.00" filter="url(#nzC)" style="mix-blend-mode:multiply" opacity="0.1"/></g>
</g>
<line x1="87.5" y1="194.5" x2="87.5" y2="196.4" stroke="#444" stroke-width="1"/>
<line x1="87.5" y1="295.5" x2="87.5" y2="293.6" stroke="#444" stroke-width="1"/>
<line x1="128.8" y1="194.5" x2="128.8" y2="196.4" stroke="#444" stroke-width="1"/>
<line x1="128.8" y1="295.5" x2="128.8" y2="293.6" stroke="#444" stroke-width="1"/>
<line x1="170.5" y1="194.5" x2="170.5" y2="196.4" stroke="#444" stroke-width="1"/>
<line x1="170.5" y1="295.5" x2="170.5" y2="293.6" stroke="#444" stroke-width="1"/>
<line x1="46.5" y1="196.6" x2="48.4" y2="196.6" stroke="#444" stroke-width="1"/>
<line x1="211.5" y1="196.6" x2="209.6" y2="196.6" stroke="#444" stroke-width="1"/>
<line x1="46.5" y1="212.9" x2="48.4" y2="212.9" stroke="#444" stroke-width="1"/>
<line x1="211.5" y1="212.9" x2="209.6" y2="212.9" stroke="#444" stroke-width="1"/>
<line x1="46.5" y1="229.6" x2="48.4" y2="229.6" stroke="#444" stroke-width="1"/>
<line x1="211.5" y1="229.6" x2="209.6" y2="229.6" stroke="#444" stroke-width="1"/>
<line x1="46.5" y1="245.8" x2="48.4" y2="245.8" stroke="#444" stroke-width="1"/>
<line x1="211.5" y1="245.8" x2="209.6" y2="245.8" stroke="#444" stroke-width="1"/>
<line x1="46.5" y1="262.2" x2="48.4" y2="262.2" stroke="#444" stroke-width="1"/>
<line x1="211.5" y1="262.2" x2="209.6" y2="262.2" stroke="#444" stroke-width="1"/>
<line x1="46.5" y1="278.4" x2="48.4" y2="278.4" stroke="#444" stroke-width="1"/>
<line x1="211.5" y1="278.4" x2="209.6" y2="278.4" stroke="#444" stroke-width="1"/>
<rect x="46.50" y="194.50" width="165.00" height="101.00" fill="none" stroke="#333" stroke-width="1.2"/>
<g clip-path="url(#cr)">
<rect x="219.00" y="195.10" width="167.20" height="101.20" fill="url(#gr)"/>
<g filter="url(#bb3)"><rect x="235.0" y="198.0" width="8.0" height="72.0" fill="#000" opacity="0.060"/>
<rect x="243.0" y="198.0" width="13.0" height="70.0" fill="#000" opacity="0.120"/>
<rect x="262.0" y="200.0" width="11.0" height="85.0" fill="#fff" opacity="0.180"/>
<rect x="290.0" y="200.0" width="10.0" height="80.0" fill="#fff" opacity="0.080"/>
<rect x="303.0" y="198.0" width="25.0" height="72.0" fill="#fff" opacity="0.050"/>
<rect x="328.0" y="225.0" width="13.0" height="60.0" fill="#000" opacity="0.100"/>
<rect x="358.0" y="198.0" width="26.0" height="47.0" fill="#000" opacity="0.040"/>
<rect x="219.0" y="240.0" width="16.0" height="35.0" fill="#000" opacity="0.040"/></g>
<g filter="url(#bb1)"><rect x="334.0" y="252.0" width="3.0" height="28.0" fill="#000" opacity="0.250"/>
<rect x="300.0" y="240.0" width="2.0" height="30.0" fill="#000" opacity="0.100"/>
<rect x="252.0" y="230.0" width="2.0" height="32.0" fill="#000" opacity="0.120"/></g>
<rect x="219.00" y="195.10" width="167.20" height="101.20" filter="url(#nzB)" style="mix-blend-mode:soft-light" opacity="0.6"/>
<rect x="219.00" y="195.10" width="167.20" height="101.20" filter="url(#nzB2)" style="mix-blend-mode:soft-light" opacity="0.35"/>
</g>
<line x1="261.8" y1="195.1" x2="261.8" y2="197.0" stroke="#444" stroke-width="1"/>
<line x1="261.8" y1="296.3" x2="261.8" y2="294.4" stroke="#444" stroke-width="1"/>
<line x1="303.0" y1="195.1" x2="303.0" y2="197.0" stroke="#444" stroke-width="1"/>
<line x1="303.0" y1="296.3" x2="303.0" y2="294.4" stroke="#444" stroke-width="1"/>
<line x1="344.4" y1="195.1" x2="344.4" y2="197.0" stroke="#444" stroke-width="1"/>
<line x1="344.4" y1="296.3" x2="344.4" y2="294.4" stroke="#444" stroke-width="1"/>
<line x1="219.0" y1="196.8" x2="220.9" y2="196.8" stroke="#444" stroke-width="1"/>
<line x1="386.2" y1="196.8" x2="384.3" y2="196.8" stroke="#444" stroke-width="1"/>
<line x1="219.0" y1="213.3" x2="220.9" y2="213.3" stroke="#444" stroke-width="1"/>
<line x1="386.2" y1="213.3" x2="384.3" y2="213.3" stroke="#444" stroke-width="1"/>
<line x1="219.0" y1="229.4" x2="220.9" y2="229.4" stroke="#444" stroke-width="1"/>
<line x1="386.2" y1="229.4" x2="384.3" y2="229.4" stroke="#444" stroke-width="1"/>
<line x1="219.0" y1="246.0" x2="220.9" y2="246.0" stroke="#444" stroke-width="1"/>
<line x1="386.2" y1="246.0" x2="384.3" y2="246.0" stroke="#444" stroke-width="1"/>
<line x1="219.0" y1="262.2" x2="220.9" y2="262.2" stroke="#444" stroke-width="1"/>
<line x1="386.2" y1="262.2" x2="384.3" y2="262.2" stroke="#444" stroke-width="1"/>
<line x1="219.0" y1="278.8" x2="220.9" y2="278.8" stroke="#444" stroke-width="1"/>
<line x1="386.2" y1="278.8" x2="384.3" y2="278.8" stroke="#444" stroke-width="1"/>
<rect x="219.00" y="195.10" width="167.20" height="101.20" fill="none" stroke="#333" stroke-width="1.2"/>
<g stroke="#c4c4c4" stroke-width="0.9"><line x1="8.3" y1="9.5" x2="12.3" y2="9.5"/><line x1="18.3" y1="9.5" x2="22.7" y2="9.5"/><line x1="87.4" y1="299.7" x2="89.4" y2="299.7"/><line x1="126.8" y1="299.7" x2="128.8" y2="299.7"/><line x1="168.4" y1="299.7" x2="170.4" y2="299.7"/><line x1="210.0" y1="299.7" x2="212.0" y2="299.7"/></g>
<g fill="#111" stroke="#111" stroke-width="0.18" font-family="Liberation Sans, sans-serif"><text x="109.00" y="24.00" font-size="18.00" text-anchor="start" >Insects</text>
<text x="302.80" y="24.00" font-size="17.60" text-anchor="middle" >Waves</text>
<text transform="translate(19.4,167.3) rotate(-90) scale(0.965,1)" font-size="15.5">Cochlear Channel (Hz)</text>
<text x="62.00" y="41.20" font-size="14.30" text-anchor="end" >8844</text>
<text x="62.00" y="77.20" font-size="14.30" text-anchor="end" >2507</text>
<text x="62.00" y="113.60" font-size="14.30" text-anchor="end" >596</text>
<text x="62.00" y="146.60" font-size="14.30" text-anchor="end" >52</text>
<text x="263.70" y="161.20" font-size="14.00" text-anchor="middle" >1.8</text>
<text x="300.60" y="161.20" font-size="14.00" text-anchor="middle" >8.5</text>
<text x="337.50" y="161.20" font-size="14.00" text-anchor="middle" >41.3</text>
<text x="375.30" y="161.20" font-size="14.00" text-anchor="middle" >200</text>
<text x="222.20" y="180.60" font-size="15.00" text-anchor="start" >Modulation Channel (Hz)</text>
<text transform="translate(43.8,204.90) scale(1.05,1)" font-size="14.8" text-anchor="end">8844</text>
<text transform="translate(43.8,234.70) scale(1.05,1)" font-size="14.8" text-anchor="end">2507</text>
<text transform="translate(43.8,264.70) scale(1.05,1)" font-size="14.8" text-anchor="end">596</text>
<text transform="translate(43.8,296.50) scale(1.05,1)" font-size="14.8" text-anchor="end">52</text></g>
</svg>
</body></html>
